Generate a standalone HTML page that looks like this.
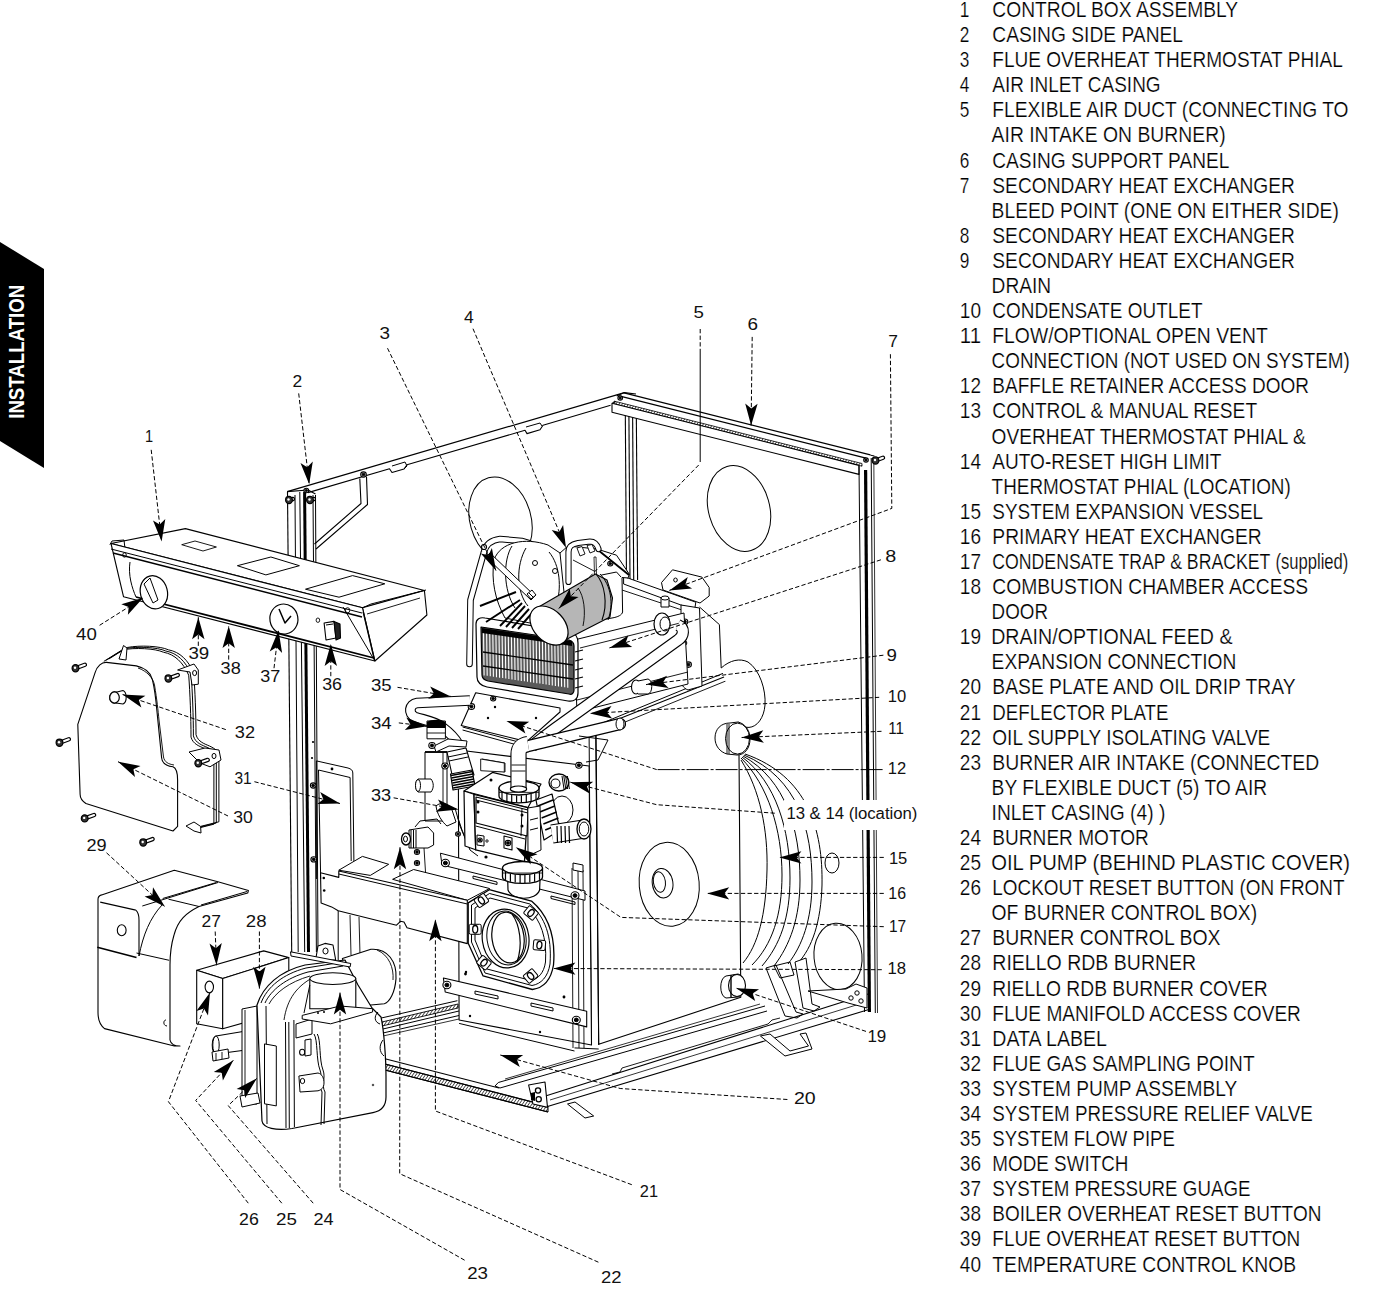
<!DOCTYPE html>
<html><head><meta charset="utf-8"><style>
html,body{margin:0;padding:0;background:#fff;}
body{width:1373px;height:1308px;overflow:hidden;}
svg{display:block;}
.leg text{font-family:"Liberation Sans",sans-serif;font-size:21.6px;fill:#000;stroke:#fff;stroke-width:0.22px;}
.lab text{font-family:"Liberation Sans",sans-serif;font-size:16px;fill:#111;}
</style></head><body>
<svg width="1373" height="1308" viewBox="0 0 1373 1308">
<polygon points="0,242 44,269 44,468 0,441" fill="#000"/>
<text transform="translate(24.2,418.8) rotate(-90)" style="font-family:'Liberation Sans',sans-serif;font-weight:bold;font-size:22.8px;fill:#fff" textLength="134" lengthAdjust="spacingAndGlyphs">INSTALLATION</text>
<defs><pattern id="hatch" width="2.6" height="2.6" patternUnits="userSpaceOnUse" patternTransform="rotate(35)"><line x1="0" y1="0" x2="0" y2="2.6" stroke="#000" stroke-width="1.3"/></pattern></defs><g id="diagram"><ellipse cx="500.5" cy="519.8" rx="30.5" ry="43.7" fill="none" stroke="#000" stroke-width="1.0" transform="rotate(-16 500.5 519.8)"/>
<ellipse cx="739" cy="508.5" rx="30.5" ry="43.7" fill="none" stroke="#000" stroke-width="1.0" transform="rotate(-16 739 508.5)"/>
<polyline points="287.2,491.6 624.4,392.6" fill="none" stroke="#000" stroke-width="1.2" stroke-linejoin="round" />
<polyline points="308.0,492.6 389.5,468.8 392.0,472.5 404.0,469.0 407.0,464.8 525.0,430.3 527.0,433.6 540.0,429.8 543.0,425.2 610.6,405.2" fill="none" stroke="#000" stroke-width="1.1" stroke-linejoin="round" />
<path d="M392,466 L405,462 L407,466 L404,469" fill="none" stroke="#000" stroke-width="1.0" stroke-linejoin="round" />
<path d="M526,427 L540,423 L542,426" fill="none" stroke="#000" stroke-width="1.0" stroke-linejoin="round" />
<polyline points="359.8,478.5 361.0,503.5 314.5,544.0" fill="none" stroke="#000" stroke-width="1.1" stroke-linejoin="round" />
<polyline points="366.5,476.5 367.5,504.5 316.0,549.0" fill="none" stroke="#000" stroke-width="1.1" stroke-linejoin="round" />
<ellipse cx="363.5" cy="474.5" rx="2.8" ry="2.576" fill="#fff" stroke="#000" stroke-width="1.1"/>
<ellipse cx="363.5" cy="474.5" rx="1.4" ry="1.288" fill="#000" stroke="#000" stroke-width="1.0"/>
<polyline points="616.7,396.0 624.4,392.6 636.0,394.0" fill="none" stroke="#000" stroke-width="1.1" stroke-linejoin="round" />
<polyline points="625.3,412.0 626.5,580.0" fill="none" stroke="#000" stroke-width="1.1" stroke-linejoin="round" />
<polyline points="628.9,412.0 630.0,580.0" fill="none" stroke="#000" stroke-width="1.1" stroke-linejoin="round" />
<polyline points="632.6,412.0 633.7,580.0" fill="none" stroke="#000" stroke-width="1.1" stroke-linejoin="round" />
<polyline points="636.3,412.0 637.6,580.0" fill="none" stroke="#000" stroke-width="1.1" stroke-linejoin="round" />
<polyline points="624.0,392.9 870.4,454.9" fill="none" stroke="#000" stroke-width="1.3" stroke-linejoin="round" />
<polyline points="619.0,395.9 866.0,458.1" fill="none" stroke="#000" stroke-width="1.3" stroke-linejoin="round" />
<polygon points="614.0,401.1 862.0,463.5 862.0,466.2 614.0,403.8" fill="url(#hatch)" stroke="#000" stroke-width="0.8" stroke-linejoin="round" />
<polygon points="612.0,403.3 859.0,465.4 859.0,474.4 612.0,412.3" fill="#fff" stroke="#000" stroke-width="1.1" stroke-linejoin="round" />
<polyline points="612.0,403.3 616.0,401.6" fill="none" stroke="#000" stroke-width="1.0" stroke-linejoin="round" />
<ellipse cx="620.2" cy="398" rx="2.3" ry="2.116" fill="#fff" stroke="#000" stroke-width="1.1"/>
<ellipse cx="620.2" cy="398" rx="1.15" ry="1.058" fill="#000" stroke="#000" stroke-width="1.0"/>
<ellipse cx="866" cy="460" rx="2.3" ry="2.116" fill="#fff" stroke="#000" stroke-width="1.1"/>
<ellipse cx="866" cy="460" rx="1.15" ry="1.058" fill="#000" stroke="#000" stroke-width="1.0"/>
<polyline points="859.0,466.0 864.5,1012.0" fill="none" stroke="#000" stroke-width="1.0" stroke-linejoin="round" />
<polyline points="865.6,470.0 869.4,1012.0" fill="none" stroke="#000" stroke-width="3.2" stroke-linejoin="round" />
<polyline points="871.2,458.0 875.3,1013.0" fill="none" stroke="#000" stroke-width="1.0" stroke-linejoin="round" />
<polyline points="873.8,457.0 877.5,1013.0" fill="none" stroke="#000" stroke-width="0.8" stroke-linejoin="round" />
<polyline points="870.4,455.2 874.5,456.0" fill="none" stroke="#000" stroke-width="1.0" stroke-linejoin="round" />
<line x1="875.5" y1="460.5" x2="883.0" y2="457.8" stroke="#000" stroke-width="4.4" stroke-linecap="round"/>
<line x1="875.5" y1="460.5" x2="883.0" y2="457.8" stroke="#fff" stroke-width="2.0" stroke-linecap="round"/>
<ellipse cx="875.5" cy="460.5" rx="3.4" ry="3.6" fill="#333" stroke="#000" stroke-width="1.2"/>
<circle cx="875.0" cy="460.0" r="1.2" fill="#fff"/>
<path d="M741,760 C760,790 768,830 767,870 C766,915 758,945 743,963" fill="none" stroke="#000" stroke-width="1.0" stroke-linejoin="round" />
<path d="M741,758 C768,785 782,830 782,875 C782,915 772,945 752,965" fill="none" stroke="#000" stroke-width="1.0" stroke-linejoin="round" />
<path d="M742,757 C776,782 790,830 790,878 C790,918 780,945 762,966" fill="none" stroke="#000" stroke-width="1.0" stroke-linejoin="round" />
<path d="M743,756 C786,780 800,830 800,880 C800,918 790,945 774,966" fill="none" stroke="#000" stroke-width="1.0" stroke-linejoin="round" />
<path d="M744,755 C798,778 812,830 812,882 C812,920 802,946 788,964" fill="none" stroke="#000" stroke-width="1.0" stroke-linejoin="round" />
<path d="M745,754 C808,776 823,830 822,885 C821,922 812,948 798,963" fill="none" stroke="#000" stroke-width="1.0" stroke-linejoin="round" />
<ellipse cx="832" cy="863" rx="7" ry="10" fill="#fff" stroke="#000" stroke-width="1.0"/>
<ellipse cx="838" cy="956.4" rx="24" ry="33.3" fill="#fff" stroke="#000" stroke-width="1.0" transform="rotate(-5 838 956.4)"/>
<polygon points="766.0,968.0 776.0,965.0 796.0,1012.0 803.0,1014.0 797.0,1018.0 785.0,1016.0" fill="#fff" stroke="#000" stroke-width="1.0" stroke-linejoin="round" />
<polygon points="795.0,962.0 806.0,958.0 812.0,1004.0 820.0,1007.0 814.0,1011.0 803.0,1008.0" fill="#fff" stroke="#000" stroke-width="1.0" stroke-linejoin="round" />
<path d="M774,966 L790,962 L794,975 L780,978 Z" fill="none" stroke="#000" stroke-width="1.0" stroke-linejoin="round" />
<polyline points="545.5,1096.0 868.0,994.0" fill="none" stroke="#000" stroke-width="1.1" stroke-linejoin="round" />
<polyline points="547.5,1106.5 868.0,1009.8" fill="none" stroke="#000" stroke-width="1.1" stroke-linejoin="round" />
<polyline points="550.0,1100.0 866.0,1002.0" fill="none" stroke="#000" stroke-width="0.8" stroke-linejoin="round" />
<polyline points="612.0,1074.0 620.0,1072.0 622.0,1068.0 768.0,1024.0 772.0,1020.0 780.0,1018.0" fill="none" stroke="#000" stroke-width="0.9" stroke-linejoin="round" />
<polygon points="808.0,991.0 846.0,989.0 856.0,984.0 867.0,988.0 867.0,1008.0 848.0,1003.0" fill="#fff" stroke="#000" stroke-width="1.0" stroke-linejoin="round" />
<ellipse cx="851" cy="998" rx="2.2" ry="2.2" fill="none" stroke="#000" stroke-width="1.0"/>
<ellipse cx="857" cy="993" rx="2.2" ry="2.2" fill="none" stroke="#000" stroke-width="1.0"/>
<ellipse cx="861" cy="1001" rx="2.2" ry="2.2" fill="none" stroke="#000" stroke-width="1.0"/>
<polyline points="383.0,1058.2 499.0,1088.0" fill="none" stroke="#000" stroke-width="1.1" stroke-linejoin="round" />
<polygon points="383.0,1063.5 548.0,1106.0 548.0,1112.0 383.0,1069.5" fill="url(#hatch)" stroke="#000" stroke-width="1.0" stroke-linejoin="round" />
<polyline points="383.0,1063.5 548.0,1106.0" fill="none" stroke="#000" stroke-width="1.2" stroke-linejoin="round" />
<polyline points="383.0,1069.5 548.0,1112.0" fill="none" stroke="#000" stroke-width="1.2" stroke-linejoin="round" />
<path d="M383,1058.2 C378,1059 378,1070 383,1071" fill="#fff" stroke="#000" stroke-width="1.1" stroke-linejoin="round" />
<polyline points="498.3,1082.5 765.0,1006.0" fill="none" stroke="#000" stroke-width="1.0" stroke-linejoin="round" />
<polyline points="500.0,1088.0 767.0,1011.0" fill="none" stroke="#000" stroke-width="1.0" stroke-linejoin="round" />
<polyline points="498.3,1082.5 495.0,1086.0 500.0,1088.0" fill="none" stroke="#000" stroke-width="1.0" stroke-linejoin="round" />
<polyline points="505.0,1079.0 760.0,1004.0" fill="none" stroke="#000" stroke-width="0.8" stroke-linejoin="round" />
<polyline points="380.5,1018.2 457.4,1000.7" fill="none" stroke="#000" stroke-width="1.0" stroke-linejoin="round" />
<polygon points="382.0,1022.0 458.0,1004.0 458.0,1008.0 382.0,1026.0" fill="url(#hatch)" stroke="#000" stroke-width="0.9" stroke-linejoin="round" />
<polyline points="383.0,1029.0 459.0,1011.0" fill="none" stroke="#000" stroke-width="1.0" stroke-linejoin="round" />
<polyline points="383.0,1033.0 459.0,1015.5" fill="none" stroke="#000" stroke-width="1.0" stroke-linejoin="round" />
<polyline points="383.0,1036.0 459.0,1019.0" fill="none" stroke="#000" stroke-width="0.8" stroke-linejoin="round" />
<polygon points="528.6,1085.0 545.0,1082.0 547.5,1107.4 533.0,1104.0" fill="#fff" stroke="#000" stroke-width="1.1" stroke-linejoin="round" />
<ellipse cx="538" cy="1090.5" rx="2.6" ry="2.6" fill="#fff" stroke="#000" stroke-width="1.3"/>
<ellipse cx="538.7" cy="1099.3" rx="2.6" ry="2.6" fill="#fff" stroke="#000" stroke-width="1.3"/>
<path d="M531,1093 L535,1092 L535,1101 L531,1100 Z" fill="#000"/>
<polygon points="567.5,1104.0 575.0,1102.0 593.7,1116.0 585.0,1118.0" fill="#fff" stroke="#000" stroke-width="1.0" stroke-linejoin="round" />
<polygon points="760.4,1036.0 770.0,1034.0 790.0,1051.0 808.5,1046.0 800.0,1034.0 806.0,1033.0 812.0,1049.0 785.0,1056.0" fill="#fff" stroke="#000" stroke-width="1.0" stroke-linejoin="round" />
<polygon points="596.0,728.0 738.4,671.3 740.8,997.3 598.7,1044.3" fill="#fff" stroke="#000" stroke-width="1.1" stroke-linejoin="round" />
<polyline points="600.0,724.0 738.4,667.0" fill="none" stroke="#000" stroke-width="1.0" stroke-linejoin="round" />
<polyline points="603.0,731.0 738.0,676.0" fill="none" stroke="#000" stroke-width="0.9" stroke-linejoin="round" />
<path d="M721.2,668 C730,660 740,658 748,662 C760,670 766,690 765,705 C764,718 757,727 749,727.4 L740,727" fill="#fff" stroke="#000" stroke-width="1.0" stroke-linejoin="round" />
<polyline points="589.1,735.0 591.5,1045.0" fill="none" stroke="#000" stroke-width="1.0" stroke-linejoin="round" />
<polyline points="595.7,733.0 598.7,1045.0" fill="none" stroke="#000" stroke-width="1.0" stroke-linejoin="round" />
<polygon points="458.3,750.0 589.1,766.0 591.5,1045.0 459.1,1020.0" fill="#fff" stroke="#000" stroke-width="1.1" stroke-linejoin="round" />
<polyline points="482.0,759.0 505.0,763.0 505.0,772.0 482.0,768.0" fill="none" stroke="#000" stroke-width="0.9" stroke-linejoin="round" />
<polyline points="459.1,1023.4 574.5,1051.0" fill="none" stroke="#000" stroke-width="1.0" stroke-linejoin="round" />
<polyline points="574.5,1047.9 598.7,1049.0" fill="none" stroke="#000" stroke-width="1.0" stroke-linejoin="round" />
<polyline points="572.0,868.0 573.0,1048.0" fill="none" stroke="#000" stroke-width="0.9" stroke-linejoin="round" />
<polyline points="578.0,868.0 579.0,1048.0" fill="none" stroke="#000" stroke-width="0.9" stroke-linejoin="round" />
<polyline points="583.0,870.0 584.0,1048.0" fill="none" stroke="#000" stroke-width="0.9" stroke-linejoin="round" />
<circle cx="466" cy="972" r="1.2" fill="#000"/>
<circle cx="564" cy="997" r="1.2" fill="#000"/>
<circle cx="470" cy="1016" r="1.2" fill="#000"/>
<circle cx="540" cy="1032" r="1.2" fill="#000"/>
<ellipse cx="669.2" cy="884.3" rx="30" ry="42" fill="none" stroke="#000" stroke-width="1.0" transform="rotate(-5 669.2 884.3)"/>
<ellipse cx="662.6" cy="883.2" rx="10.3" ry="14.8" fill="none" stroke="#000" stroke-width="1.0" transform="rotate(-8 662.6 883.2)"/>
<ellipse cx="659.4" cy="882" rx="6" ry="10.3" fill="none" stroke="#000" stroke-width="1.0" transform="rotate(-8 659.4 882)"/>
<path d="M726,976 L738,974 C746,976 748,994 738,997 L726,998 C719,996 719,978 726,976 Z" fill="#fff" stroke="#000" stroke-width="1.0" stroke-linejoin="round" />
<ellipse cx="737" cy="985.5" rx="8.5" ry="11" fill="#fff" stroke="#000" stroke-width="1.1"/>
<polyline points="731.0,975.0 731.0,997.0" fill="none" stroke="#000" stroke-width="1.4" stroke-linejoin="round" />
<path d="M730,723 L738,722 C746,724 750,731 750,739 C750,748 745,755 737,755 L727,754 C720,752 715,746 715,738 C715,729 721,723 730,723 Z" fill="#fff" stroke="#000" stroke-width="1.0" stroke-linejoin="round" />
<ellipse cx="737.5" cy="738.6" rx="12" ry="15.5" fill="#fff" stroke="#000" stroke-width="1.0"/>
<polyline points="727.0,724.0 727.0,754.0" fill="none" stroke="#000" stroke-width="0.9" stroke-linejoin="round" />
<polyline points="729.0,724.0 729.0,754.0" fill="none" stroke="#000" stroke-width="0.9" stroke-linejoin="round" />
<polygon points="623.6,576.5 695.8,602.2 694.6,610.0 623.6,584.0" fill="#fff" stroke="#000" stroke-width="1.0" stroke-linejoin="round" />
<polyline points="622.0,590.0 694.0,614.0" fill="none" stroke="#000" stroke-width="0.9" stroke-linejoin="round" />
<polygon points="661.5,582.6 672.5,569.8 701.9,577.1 709.2,587.5 709.2,596.0 700.0,603.0 663.0,590.0" fill="#fff" stroke="#000" stroke-width="1.0" stroke-linejoin="round" />
<ellipse cx="675.5" cy="580" rx="1.8" ry="2" fill="none" stroke="#000" stroke-width="1.0"/>
<polygon points="661.0,598.0 669.0,598.0 669.0,607.0 661.0,607.0" fill="#fff" stroke="#000" stroke-width="1.0" stroke-linejoin="round" />
<ellipse cx="665" cy="598" rx="4" ry="2" fill="#fff" stroke="#000" stroke-width="1.0"/>
<path d="M681,605 L699.5,608 L702,686 L688,690 C683,688 681,684 681,680 Z" fill="#fff" stroke="#000" stroke-width="1.0" stroke-linejoin="round" />
<ellipse cx="684.8" cy="621.7" rx="3" ry="2.7600000000000002" fill="#fff" stroke="#000" stroke-width="1.1"/>
<ellipse cx="684.8" cy="621.7" rx="1.5" ry="1.3800000000000001" fill="#000" stroke="#000" stroke-width="1.0"/>
<ellipse cx="688.4" cy="664.6" rx="3" ry="2.7600000000000002" fill="#fff" stroke="#000" stroke-width="1.1"/>
<ellipse cx="688.4" cy="664.6" rx="1.5" ry="1.3800000000000001" fill="#000" stroke="#000" stroke-width="1.0"/>
<ellipse cx="685" cy="643" rx="1.8" ry="2.2" fill="none" stroke="#000" stroke-width="1.0"/>
<polyline points="699.5,607.0 719.4,624.6 721.2,668.0" fill="none" stroke="#000" stroke-width="1.0" stroke-linejoin="round" />
<polygon points="574.0,640.0 684.0,613.0 688.0,684.0 577.0,712.0" fill="#fff" stroke="#000" stroke-width="1.0" stroke-linejoin="round" />
<polyline points="580.0,648.0 684.0,622.0" fill="none" stroke="#000" stroke-width="0.9" stroke-linejoin="round" />
<polyline points="577.0,700.0 688.0,672.0" fill="none" stroke="#000" stroke-width="0.9" stroke-linejoin="round" />
<ellipse cx="662" cy="624" rx="8" ry="11" fill="#fff" stroke="#000" stroke-width="1.2"/>
<ellipse cx="665" cy="624" rx="5" ry="7" fill="#fff" stroke="#000" stroke-width="1.0"/>
<path d="M678,625 C685,628 684,636 678,640 L560,725 C550,732 540,740 532,746" fill="none" stroke="#000" stroke-width="12.2" stroke-linejoin="round" stroke-linecap="butt"/>
<path d="M678,625 C685,628 684,636 678,640 L560,725 C550,732 540,740 532,746" fill="none" stroke="#fff" stroke-width="10" stroke-linejoin="round" stroke-linecap="butt"/>
<path d="M520,748 L620,724" fill="none" stroke="#000" stroke-width="12.2" stroke-linejoin="round" stroke-linecap="round"/>
<path d="M520,748 L620,724" fill="none" stroke="#fff" stroke-width="10" stroke-linejoin="round" stroke-linecap="round"/>
<ellipse cx="620" cy="724" rx="4" ry="6" fill="#fff" stroke="#000" stroke-width="1.0"/>
<ellipse cx="636" cy="687" rx="4.5" ry="7" fill="#fff" stroke="#000" stroke-width="1.1"/>
<path d="M638,681 L648,679 C653,680 653,693 648,694 L638,694" fill="#fff" stroke="#000" stroke-width="1.0" stroke-linejoin="round" />
<path d="M579,736 L608,740 L598,760 L586,762" fill="none" stroke="#000" stroke-width="1.0" stroke-linejoin="round" />
<ellipse cx="578.9" cy="765.3" rx="3.2" ry="2.9440000000000004" fill="#fff" stroke="#000" stroke-width="1.1"/>
<ellipse cx="578.9" cy="765.3" rx="1.6" ry="1.4720000000000002" fill="#000" stroke="#000" stroke-width="1.0"/>
<path d="M476,624 C476,619 480,617 485,618 L570,632 C575,633 578,637 578,643 L578,693 C578,699 574,702 568,701 L487,687 C481,686 477,682 477,677 Z" fill="#fff" stroke="#000" stroke-width="1.2" stroke-linejoin="round" />
<path d="M481,627 L569,640 C572,641 574,643 574,646 L574,690 C574,693 572,695 569,694 L488,681 C484,680 482,678 482,675 Z" fill="#5a5a5a" stroke="#000" stroke-width="1.2" stroke-linejoin="round" />
<path d="M483.5,630.4 L484.1,675.4 M486.6,630.8 L487.2,675.8 M489.7,631.3 L490.3,676.3 M492.8,631.7 L493.4,676.7 M495.9,632.2 L496.5,677.2 M499.0,632.7 L499.6,677.7 M502.1,633.1 L502.7,678.1 M505.2,633.6 L505.8,678.6 M508.3,634.0 L508.9,679.0 M511.4,634.5 L512.0,679.5 M514.5,635.0 L515.1,680.0 M517.6,635.4 L518.2,680.4 M520.7,635.9 L521.3,680.9 M523.8,636.3 L524.4,681.3 M526.9,636.8 L527.5,681.8 M530.0,637.3 L530.6,682.3 M533.1,637.7 L533.7,682.7 M536.2,638.2 L536.8,683.2 M539.3,638.6 L539.9,683.6 M542.4,639.1 L543.0,684.1 M545.5,639.5 L546.1,684.5 M548.6,640.0 L549.2,685.0 M551.7,640.5 L552.3,685.5 M554.8,640.9 L555.4,685.9 M557.9,641.4 L558.5,686.4 M561.0,641.8 L561.6,686.8 M564.1,642.3 L564.7,687.3 M567.2,642.8 L567.8,687.8" stroke="#fff" stroke-width="1.1" fill="none"/>
<polygon points="482,628 572,641 572,646 482,633" fill="#000"/>
<polyline points="483.0,652.0 573.0,665.0" fill="none" stroke="#000" stroke-width="1.3" stroke-linejoin="round" />
<polyline points="483.0,666.0 573.0,679.0" fill="none" stroke="#000" stroke-width="1.3" stroke-linejoin="round" />
<polyline points="575.0,652.0 583.0,650.0" fill="none" stroke="#000" stroke-width="1.2" stroke-linejoin="round" />
<polyline points="575.0,661.0 583.0,659.0" fill="none" stroke="#000" stroke-width="1.2" stroke-linejoin="round" />
<polyline points="575.0,670.0 583.0,668.0" fill="none" stroke="#000" stroke-width="1.2" stroke-linejoin="round" />
<polyline points="575.0,679.0 583.0,677.0" fill="none" stroke="#000" stroke-width="1.2" stroke-linejoin="round" />
<polyline points="575.0,688.0 583.0,686.0" fill="none" stroke="#000" stroke-width="1.2" stroke-linejoin="round" />
<path d="M469.5,664 L470.5,600 L484,552 C486,544 492,540 500,539 L522,541 C532,543 540,549 546,557 L555,580" fill="none" stroke="#000" stroke-width="6.6" stroke-linejoin="round" stroke-linecap="round"/>
<path d="M469.5,664 L470.5,600 L484,552 C486,544 492,540 500,539 L522,541 C532,543 540,549 546,557 L555,580" fill="none" stroke="#fff" stroke-width="4.6" stroke-linejoin="round" stroke-linecap="round"/>
<path d="M494,560 C500,542 525,537 548,545 L560,553 C568,565 570,590 566,612 L540,625 L505,618 C495,600 491,580 494,560 Z" fill="#fff" stroke="#000" stroke-width="1.0" stroke-linejoin="round" />
<path d="M512,546 C503,560 503,590 515,608" fill="none" stroke="#000" stroke-width="1.0" stroke-linejoin="round" />
<path d="M526,548 C516,565 516,592 528,606" fill="none" stroke="#000" stroke-width="1.0" stroke-linejoin="round" />
<path d="M549,552 C560,565 562,588 556,606" fill="none" stroke="#000" stroke-width="1.0" stroke-linejoin="round" />
<ellipse cx="535" cy="563" rx="2.5" ry="2.5" fill="none" stroke="#000" stroke-width="1.0"/>
<ellipse cx="555" cy="571" rx="2.5" ry="2.5" fill="none" stroke="#000" stroke-width="1.0"/>
<path d="M560,553 L568,546 L597,549 L616.5,555.2 L629.4,574.3 L628,578 L622,577.5 L622.6,612 C622,615 618,617 612,618 L600,620 L566,612 Z" fill="#fff" stroke="#000" stroke-width="1.0" stroke-linejoin="round" />
<polyline points="598.0,550.0 629.0,575.0" fill="none" stroke="#000" stroke-width="1.8" stroke-linejoin="round" />
<polyline points="601.2,575.1 616.5,572.0 621.0,577.0" fill="none" stroke="#000" stroke-width="1.0" stroke-linejoin="round" />
<ellipse cx="610.3" cy="563.6" rx="2.6" ry="2.3920000000000003" fill="#fff" stroke="#000" stroke-width="1.1"/>
<ellipse cx="610.3" cy="563.6" rx="1.3" ry="1.1960000000000002" fill="#000" stroke="#000" stroke-width="1.0"/>
<path d="M568.5,582 L568.5,552 C568.5,546 572,544 578,543 L590,541.5 C594,541.5 597,544 598.5,549" fill="none" stroke="#000" stroke-width="6.2" stroke-linejoin="round" stroke-linecap="round"/>
<path d="M568.5,582 L568.5,552 C568.5,546 572,544 578,543 L590,541.5 C594,541.5 597,544 598.5,549" fill="none" stroke="#fff" stroke-width="4.2" stroke-linejoin="round" stroke-linecap="round"/>
<polygon points="577.0,548.0 582.0,546.5 585.0,554.0 580.0,556.0" fill="#fff" stroke="#000" stroke-width="0.9" stroke-linejoin="round" />
<polygon points="587.0,545.5 592.0,544.5 595.0,551.0 590.0,553.0" fill="#fff" stroke="#000" stroke-width="0.9" stroke-linejoin="round" />
<polyline points="573.0,560.0 596.0,572.0" fill="none" stroke="#000" stroke-width="0.9" stroke-linejoin="round" />
<polygon points="594.0,557.0 596.0,557.0 596.5,575.0 594.5,575.0" fill="#fff" stroke="#000" stroke-width="0.8" stroke-linejoin="round" />
<polyline points="480.0,606.0 516.0,592.0" fill="none" stroke="#000" stroke-width="1.9" stroke-linejoin="round" />
<polyline points="486.0,622.0 520.0,600.0" fill="none" stroke="#000" stroke-width="1.9" stroke-linejoin="round" />
<polyline points="500.0,626.0 522.0,603.0" fill="none" stroke="#000" stroke-width="1.9" stroke-linejoin="round" />
<polyline points="506.0,627.0 525.0,606.0" fill="none" stroke="#000" stroke-width="1.9" stroke-linejoin="round" />
<polyline points="512.0,628.0 529.0,609.0" fill="none" stroke="#000" stroke-width="1.9" stroke-linejoin="round" />
<polyline points="518.0,629.0 533.0,612.0" fill="none" stroke="#000" stroke-width="1.9" stroke-linejoin="round" />
<polygon points="486.0,557.0 490.0,553.0 535.0,596.0 531.0,600.0" fill="#fff" stroke="#000" stroke-width="1.0" stroke-linejoin="round" />
<polygon points="527.0,594.0 532.0,590.0 536.0,595.0 531.0,599.0" fill="#fff" stroke="#000" stroke-width="1.0" stroke-linejoin="round" />
<polyline points="529.0,593.0 533.0,597.0" fill="none" stroke="#000" stroke-width="1.0" stroke-linejoin="round" />
<ellipse cx="484" cy="547" rx="2.5" ry="2.5" fill="#fff" stroke="#000" stroke-width="1.2"/>
<polygon points="536.0,608.5 595.5,574.0 607.0,580.0 612.5,598.0 610.0,617.0 565.2,640.0" fill="#b6b6b6" stroke="#000" stroke-width="1.1" stroke-linejoin="round" />
<path d="M596,574 C605,584 608,604 602,620" fill="none" stroke="#000" stroke-width="1.1" stroke-linejoin="round" />
<path d="M600,574 C611,585 614,604 608,620" fill="none" stroke="#000" stroke-width="1.0" stroke-linejoin="round" />
<path d="M578,588 C584,596 586,612 583,626" fill="none" stroke="#000" stroke-width="0.9" stroke-linejoin="round" />
<ellipse cx="549" cy="625.6" rx="22.5" ry="15.5" fill="#fff" stroke="#000" stroke-width="1.2" transform="rotate(47 549 625.6)"/>
<polygon points="480.7,759.0 504.3,763.0 504.3,772.0 480.7,770.7" fill="#fff" stroke="#000" stroke-width="0.9" stroke-linejoin="round" />
<polygon points="475.7,692.8 560.0,708.0 560.0,712.0 526.7,741.6 461.2,725.5" fill="#fff" stroke="#000" stroke-width="1.1" stroke-linejoin="round" />
<polyline points="462.6,727.0 522.4,743.0" fill="none" stroke="#000" stroke-width="1.0" stroke-linejoin="round" />
<polyline points="462.6,730.0 520.9,746.0" fill="none" stroke="#000" stroke-width="1.0" stroke-linejoin="round" />
<ellipse cx="471.4" cy="706.6" rx="3.2" ry="2.9440000000000004" fill="#fff" stroke="#000" stroke-width="1.1"/>
<ellipse cx="471.4" cy="706.6" rx="1.6" ry="1.4720000000000002" fill="#000" stroke="#000" stroke-width="1.0"/>
<ellipse cx="493.2" cy="698.6" rx="2.6" ry="2.3920000000000003" fill="#fff" stroke="#000" stroke-width="1.1"/>
<ellipse cx="493.2" cy="698.6" rx="1.3" ry="1.1960000000000002" fill="#000" stroke="#000" stroke-width="1.0"/>
<circle cx="488" cy="718" r="1.2" fill="#000"/>
<circle cx="495" cy="707" r="1.2" fill="#000"/>
<circle cx="536" cy="718" r="1.2" fill="#000"/>
<polygon points="425.0,752.0 447.0,752.0 447.0,821.0 425.0,821.0" fill="#fff" stroke="#000" stroke-width="1.0" stroke-linejoin="round" />
<polyline points="443.0,752.0 443.0,821.0" fill="none" stroke="#000" stroke-width="0.9" stroke-linejoin="round" />
<path d="M431,779 L418,779 C415,781 415,790 418,792 L431,792 C434,788 434,783 431,779 Z" fill="#fff" stroke="#000" stroke-width="1.0" stroke-linejoin="round" />
<ellipse cx="418" cy="785.5" rx="2.5" ry="6" fill="#fff" stroke="#000" stroke-width="1.0"/>
<polyline points="425.0,752.0 447.0,752.0" fill="none" stroke="#000" stroke-width="1.8" stroke-linejoin="round" />
<path d="M470,700.5 L417,703 C409,704 408,714 415,717 C424,720 434,721 442,727 C450,733 455,738 458,744" fill="none" stroke="#000" stroke-width="10.7" stroke-linejoin="round" stroke-linecap="butt"/>
<path d="M470,700.5 L417,703 C409,704 408,714 415,717 C424,720 434,721 442,727 C450,733 455,738 458,744" fill="none" stroke="#fff" stroke-width="8.5" stroke-linejoin="round" stroke-linecap="butt"/>
<polygon points="427.0,721.0 445.4,721.0 445.4,738.8 427.0,738.8" fill="#fff" stroke="#000" stroke-width="1.0" stroke-linejoin="round" />
<path d="M427,722 C431,719 441,719 445.4,722 L445.4,728 L427,728 Z" fill="#000"/>
<polyline points="427.0,733.0 445.4,733.0" fill="none" stroke="#000" stroke-width="0.9" stroke-linejoin="round" />
<polygon points="434.0,746.0 448.0,739.0 467.0,741.0 466.0,747.0 449.0,746.0 436.0,752.0" fill="#fff" stroke="#000" stroke-width="1.0" stroke-linejoin="round" />
<ellipse cx="432" cy="745.5" rx="3.2" ry="2.9440000000000004" fill="#fff" stroke="#000" stroke-width="1.1"/>
<ellipse cx="432" cy="745.5" rx="1.6" ry="1.4720000000000002" fill="#000" stroke="#000" stroke-width="1.0"/>
<path d="M447,752 L466,748 L474,775 L453,779 Z" fill="#fff" stroke="#000" stroke-width="1.1" stroke-linejoin="round" />
<polyline points="448.0,757.0 467.0,753.0" fill="none" stroke="#000" stroke-width="1.0" stroke-linejoin="round" />
<polyline points="449.0,761.0 468.0,757.0" fill="none" stroke="#000" stroke-width="1.0" stroke-linejoin="round" />
<ellipse cx="445" cy="766" rx="3.2" ry="2.9440000000000004" fill="#fff" stroke="#000" stroke-width="1.1"/>
<ellipse cx="445" cy="766" rx="1.6" ry="1.4720000000000002" fill="#000" stroke="#000" stroke-width="1.0"/>
<path d="M450.5,774 L472,770 L475,786 L453,790 Z" fill="#fff" stroke="#000" stroke-width="1.2" stroke-linejoin="round" />
<polyline points="451.0,775.5 472.5,771.5" fill="none" stroke="#000" stroke-width="1.4" stroke-linejoin="round" />
<polyline points="451.4,778.0 472.9,774.0" fill="none" stroke="#000" stroke-width="1.4" stroke-linejoin="round" />
<polyline points="451.9,780.5 473.4,776.5" fill="none" stroke="#000" stroke-width="1.4" stroke-linejoin="round" />
<polyline points="452.4,783.0 473.9,779.0" fill="none" stroke="#000" stroke-width="1.4" stroke-linejoin="round" />
<polyline points="452.8,785.5 474.3,781.5" fill="none" stroke="#000" stroke-width="1.4" stroke-linejoin="round" />
<polyline points="453.2,788.0 474.8,784.0" fill="none" stroke="#000" stroke-width="1.4" stroke-linejoin="round" />
<path d="M409,830 L428,827 L433.6,833 L433.6,845 L428,848 L409,848 Z" fill="#fff" stroke="#000" stroke-width="1.0" stroke-linejoin="round" />
<ellipse cx="406" cy="839" rx="4.5" ry="6" fill="#fff" stroke="#000" stroke-width="1.3"/>
<ellipse cx="405.5" cy="839" rx="2" ry="2.8" fill="none" stroke="#000" stroke-width="1.0"/>
<polyline points="411.0,830.0 411.0,848.0" fill="none" stroke="#000" stroke-width="1.0" stroke-linejoin="round" />
<polyline points="413.5,830.0 413.5,848.0" fill="none" stroke="#000" stroke-width="1.0" stroke-linejoin="round" />
<polyline points="416.0,830.0 416.0,848.0" fill="none" stroke="#000" stroke-width="1.0" stroke-linejoin="round" />
<path d="M415,827 L420,821 L437,819 L441,824" fill="none" stroke="#000" stroke-width="1.0" stroke-linejoin="round" />
<ellipse cx="417" cy="852" rx="2.6" ry="2.3920000000000003" fill="#fff" stroke="#000" stroke-width="1.1"/>
<ellipse cx="417" cy="852" rx="1.3" ry="1.1960000000000002" fill="#000" stroke="#000" stroke-width="1.0"/>
<ellipse cx="417" cy="863" rx="2.6" ry="2.3920000000000003" fill="#fff" stroke="#000" stroke-width="1.1"/>
<ellipse cx="417" cy="863" rx="1.3" ry="1.1960000000000002" fill="#000" stroke="#000" stroke-width="1.0"/>
<polyline points="424.0,848.0 426.0,880.0" fill="none" stroke="#000" stroke-width="0.9" stroke-linejoin="round" />
<path d="M436,806 C441,801 450,804 452,810 L456,822 L447,826 C442,822 437,814 436,806 Z" fill="#fff" stroke="#000" stroke-width="1.0" stroke-linejoin="round" />
<path d="M455,808 L460,826 L470,850 L478,856" fill="none" stroke="#000" stroke-width="1.0" stroke-linejoin="round" />
<path d="M458,818 L462,830 L466,840" fill="none" stroke="#000" stroke-width="1.0" stroke-linejoin="round" />
<ellipse cx="458" cy="834" rx="2.4" ry="2.208" fill="#fff" stroke="#000" stroke-width="1.1"/>
<ellipse cx="458" cy="834" rx="1.2" ry="1.104" fill="#000" stroke="#000" stroke-width="1.0"/>
<polygon points="440.4,853.2 585.0,891.0 585.0,900.3 442.0,865.0" fill="#fff" stroke="#000" stroke-width="1.0" stroke-linejoin="round" />
<ellipse cx="445.4" cy="863" rx="4" ry="3.68" fill="#fff" stroke="#000" stroke-width="1.1"/>
<ellipse cx="445.4" cy="863" rx="2.0" ry="1.84" fill="#000" stroke="#000" stroke-width="1.0"/>
<ellipse cx="575" cy="895.5" rx="4" ry="3.68" fill="#fff" stroke="#000" stroke-width="1.1"/>
<ellipse cx="575" cy="895.5" rx="2.0" ry="1.84" fill="#000" stroke="#000" stroke-width="1.0"/>
<path d="M473,876 L497,882 L497,884.5 L473,878.5 Z" fill="none" stroke="#000" stroke-width="1.0" stroke-linejoin="round" />
<path d="M551,896 L575,902 L575,904.5 L551,898.5 Z" fill="none" stroke="#000" stroke-width="1.0" stroke-linejoin="round" />
<polygon points="573.0,863.0 583.0,865.0 583.0,872.0 573.0,870.0" fill="#fff" stroke="#000" stroke-width="1.0" stroke-linejoin="round" />
<polygon points="464.0,791.0 492.5,772.4 541.0,784.0 527.8,807.7" fill="#fff" stroke="#000" stroke-width="1.2" stroke-linejoin="round" />
<polygon points="464.0,791.0 474.0,794.3 475.7,849.8 465.0,846.0" fill="#fff" stroke="#000" stroke-width="1.2" stroke-linejoin="round" />
<polygon points="474.0,794.3 527.8,807.7 524.5,861.6 475.7,849.8" fill="#fff" stroke="#000" stroke-width="1.3" stroke-linejoin="round" />
<polygon points="476.0,797.0 528.0,810.0 527.0,836.0 476.0,823.0" fill="#fff" stroke="#000" stroke-width="1.2" stroke-linejoin="round" />
<polyline points="476.0,800.0 528.0,813.0" fill="none" stroke="#000" stroke-width="1.0" stroke-linejoin="round" />
<polyline points="522.0,808.0 521.0,836.0" fill="none" stroke="#000" stroke-width="1.0" stroke-linejoin="round" />
<circle cx="478" cy="802" r="1.5" fill="#000"/>
<circle cx="478" cy="812" r="1.5" fill="#000"/>
<circle cx="522" cy="815" r="1.5" fill="#000"/>
<circle cx="522" cy="826" r="1.5" fill="#000"/>
<circle cx="491" cy="780" r="1.5" fill="#000"/>
<polyline points="475.7,826.0 525.0,839.0" fill="none" stroke="#000" stroke-width="1.0" stroke-linejoin="round" />
<path d="M504,836 L512,838 L512,850 L504,848 Z" fill="none" stroke="#000" stroke-width="1.1" stroke-linejoin="round" />
<ellipse cx="508" cy="843" rx="2.8" ry="2.576" fill="#fff" stroke="#000" stroke-width="1.1"/>
<ellipse cx="508" cy="843" rx="1.4" ry="1.288" fill="#000" stroke="#000" stroke-width="1.0"/>
<path d="M477,835 L484,836 L484,846 L477,845 Z" fill="none" stroke="#000" stroke-width="1.0" stroke-linejoin="round" />
<ellipse cx="480" cy="840" rx="2.2" ry="2.0240000000000005" fill="#fff" stroke="#000" stroke-width="1.1"/>
<ellipse cx="480" cy="840" rx="1.1" ry="1.0120000000000002" fill="#000" stroke="#000" stroke-width="1.0"/>
<ellipse cx="487" cy="841" rx="1.2" ry="1.2" fill="none" stroke="#000" stroke-width="0.9"/>
<circle cx="486" cy="857" r="1.6" fill="#000"/>
<path d="M499,788 L499,796 C499,805.1 539,805.1 539,796 L539,788 Z" fill="#fff" stroke="#000" stroke-width="1.3" stroke-linejoin="round" />
<ellipse cx="519" cy="788" rx="20" ry="7" fill="#fff" stroke="#000" stroke-width="1.3"/>
<polyline points="502.0,792.2 502.0,799.2" fill="none" stroke="#000" stroke-width="1.2" stroke-linejoin="round" />
<polyline points="506.9,794.1 506.9,801.1" fill="none" stroke="#000" stroke-width="1.2" stroke-linejoin="round" />
<polyline points="511.7,795.0 511.7,802.0" fill="none" stroke="#000" stroke-width="1.2" stroke-linejoin="round" />
<polyline points="516.6,795.4 516.6,802.4" fill="none" stroke="#000" stroke-width="1.2" stroke-linejoin="round" />
<polyline points="521.4,795.4 521.4,802.4" fill="none" stroke="#000" stroke-width="1.2" stroke-linejoin="round" />
<polyline points="526.3,795.0 526.3,802.0" fill="none" stroke="#000" stroke-width="1.2" stroke-linejoin="round" />
<polyline points="531.1,794.1 531.1,801.1" fill="none" stroke="#000" stroke-width="1.2" stroke-linejoin="round" />
<polyline points="536.0,792.2 536.0,799.2" fill="none" stroke="#000" stroke-width="1.2" stroke-linejoin="round" />
<polyline points="499.0,792.4 539.0,792.4" fill="none" stroke="#000" stroke-width="0.8" stroke-linejoin="round" />
<path d="M518.5,790 L518.5,754 C518.5,748 522,745 528,744" fill="none" stroke="#000" stroke-width="16.2" stroke-linejoin="round" stroke-linecap="butt"/>
<path d="M518.5,790 L518.5,754 C518.5,748 522,745 528,744" fill="none" stroke="#fff" stroke-width="14" stroke-linejoin="round" stroke-linecap="butt"/>
<ellipse cx="518.5" cy="789" rx="8.2" ry="3" fill="#fff" stroke="#000" stroke-width="1.1"/>
<polyline points="511.5,765.0 525.5,765.0" fill="none" stroke="#000" stroke-width="0.9" stroke-linejoin="round" />
<polyline points="511.5,771.0 525.5,771.0" fill="none" stroke="#000" stroke-width="0.9" stroke-linejoin="round" />
<ellipse cx="562" cy="810" rx="11" ry="14" fill="#fff" stroke="#000" stroke-width="1.0"/>
<path d="M536,800 L552,794 L560,830 L544,840 Z" fill="#fff" stroke="#000" stroke-width="1.2" stroke-linejoin="round" />
<polyline points="538.0,806.0 553.0,800.0" fill="none" stroke="#000" stroke-width="1.6" stroke-linejoin="round" />
<polyline points="539.8,812.0 554.8,806.0" fill="none" stroke="#000" stroke-width="1.6" stroke-linejoin="round" />
<polyline points="541.6,818.0 556.6,812.0" fill="none" stroke="#000" stroke-width="1.6" stroke-linejoin="round" />
<polyline points="543.4,824.0 558.4,818.0" fill="none" stroke="#000" stroke-width="1.6" stroke-linejoin="round" />
<polyline points="545.2,830.0 560.2,824.0" fill="none" stroke="#000" stroke-width="1.6" stroke-linejoin="round" />
<path d="M552,834 L584,829" fill="none" stroke="#000" stroke-width="19.2" stroke-linejoin="round" stroke-linecap="butt"/>
<path d="M552,834 L584,829" fill="none" stroke="#fff" stroke-width="17" stroke-linejoin="round" stroke-linecap="butt"/>
<polyline points="557.0,826.0 557.5,843.0" fill="none" stroke="#000" stroke-width="1.2" stroke-linejoin="round" />
<polyline points="561.0,826.0 561.5,843.0" fill="none" stroke="#000" stroke-width="1.2" stroke-linejoin="round" />
<polyline points="565.0,826.0 565.5,843.0" fill="none" stroke="#000" stroke-width="1.2" stroke-linejoin="round" />
<polyline points="569.0,826.0 569.5,843.0" fill="none" stroke="#000" stroke-width="1.2" stroke-linejoin="round" />
<ellipse cx="584" cy="829" rx="7" ry="10" fill="#fff" stroke="#000" stroke-width="1.3"/>
<ellipse cx="584" cy="829" rx="4.8" ry="7" fill="#fff" stroke="#000" stroke-width="1.0"/>
<polygon points="527.8,808.0 540.0,806.0 541.0,850.0 528.0,856.0" fill="#fff" stroke="#000" stroke-width="1.0" stroke-linejoin="round" />
<polyline points="530.0,820.0 538.0,818.0" fill="none" stroke="#000" stroke-width="1.0" stroke-linejoin="round" />
<polyline points="530.0,830.0 538.0,828.0" fill="none" stroke="#000" stroke-width="1.0" stroke-linejoin="round" />
<ellipse cx="559" cy="782.5" rx="10" ry="8.5" fill="#fff" stroke="#000" stroke-width="1.3"/>
<ellipse cx="555.5" cy="783.5" rx="4.5" ry="4.5" fill="#fff" stroke="#000" stroke-width="1.1"/>
<polyline points="562.0,776.0 564.0,789.0" fill="none" stroke="#000" stroke-width="1.0" stroke-linejoin="round" />
<polyline points="563.8,776.0 565.8,789.0" fill="none" stroke="#000" stroke-width="1.0" stroke-linejoin="round" />
<polyline points="565.6,776.0 567.6,789.0" fill="none" stroke="#000" stroke-width="1.0" stroke-linejoin="round" />
<polyline points="567.4,776.0 569.4,789.0" fill="none" stroke="#000" stroke-width="1.0" stroke-linejoin="round" />
<path d="M507.7,880 L508,890 C512,901 536,901 539.6,890 L540,880" fill="#fff" stroke="#000" stroke-width="1.2" stroke-linejoin="round" />
<path d="M502.5,868 L502.5,877 C502.5,885.45 542.5,885.45 542.5,877 L542.5,868 Z" fill="#fff" stroke="#000" stroke-width="1.3" stroke-linejoin="round" />
<ellipse cx="522.5" cy="868" rx="20" ry="6.5" fill="#fff" stroke="#000" stroke-width="1.3"/>
<polyline points="505.5,871.9 505.5,879.9" fill="none" stroke="#000" stroke-width="1.2" stroke-linejoin="round" />
<polyline points="510.4,873.7 510.4,881.7" fill="none" stroke="#000" stroke-width="1.2" stroke-linejoin="round" />
<polyline points="515.2,874.6 515.2,882.6" fill="none" stroke="#000" stroke-width="1.2" stroke-linejoin="round" />
<polyline points="520.1,875.0 520.1,883.0" fill="none" stroke="#000" stroke-width="1.2" stroke-linejoin="round" />
<polyline points="524.9,875.0 524.9,883.0" fill="none" stroke="#000" stroke-width="1.2" stroke-linejoin="round" />
<polyline points="529.8,874.6 529.8,882.6" fill="none" stroke="#000" stroke-width="1.2" stroke-linejoin="round" />
<polyline points="534.6,873.7 534.6,881.7" fill="none" stroke="#000" stroke-width="1.2" stroke-linejoin="round" />
<polyline points="539.5,871.9 539.5,879.9" fill="none" stroke="#000" stroke-width="1.2" stroke-linejoin="round" />
<polyline points="502.5,873.0 542.5,873.0" fill="none" stroke="#000" stroke-width="0.8" stroke-linejoin="round" />
<path d="M468.2,902.9 L489.3,889.7 L531.5,901.1 C548,915 556,935 553.5,965 C551,980 543,988 532.4,989.5 L483.1,975.9 L468.2,943.3 Z" fill="#fff" stroke="#000" stroke-width="1.3" stroke-linejoin="round" />
<path d="M471.5,905 L489.5,893.5 L530,904 C545,917 552,936 550,964 C548,977 541,984 532,985.5 L485,973 L471.5,942 Z" fill="none" stroke="#000" stroke-width="1.0" stroke-linejoin="round" />
<path d="M475,908 L490,898 L528,908 C541,920 547,938 545.5,962 C544,973 538,979 531,980.5 L487,969 L475,940 Z" fill="none" stroke="#000" stroke-width="1.0" stroke-linejoin="round" />
<ellipse cx="505.6" cy="938.5" rx="23.3" ry="29.5" fill="#fff" stroke="#000" stroke-width="1.2" transform="rotate(-8 505.6 938.5)"/>
<ellipse cx="506.5" cy="938" rx="19.5" ry="27" fill="#fff" stroke="#000" stroke-width="1.0" transform="rotate(-8 506.5 938)"/>
<ellipse cx="508" cy="937.6" rx="16" ry="25.5" fill="#fff" stroke="#000" stroke-width="1.2" transform="rotate(-8 508 937.6)"/>
<path d="M512,914 C520,925 523,945 517,962" fill="none" stroke="#000" stroke-width="1.2" stroke-linejoin="round" />
<rect x="475.4" y="895.5" width="12" height="10" rx="1.5" fill="#fff" stroke="#000" stroke-width="1.0" transform="rotate(-35 481.4 900.5)"/>
<ellipse cx="481.4" cy="900.5" rx="2.5" ry="3.8" fill="#fff" stroke="#000" stroke-width="1.3" transform="rotate(-35 481.4 900.5)"/>
<rect x="469.2" y="924.3" width="12" height="10" rx="1.5" fill="#fff" stroke="#000" stroke-width="1.0" transform="rotate(0 475.2 929.3)"/>
<ellipse cx="475.2" cy="929.3" rx="2.5" ry="3.8" fill="#fff" stroke="#000" stroke-width="1.3"/>
<rect x="478" y="957.7" width="12" height="10" rx="1.5" fill="#fff" stroke="#000" stroke-width="1.0" transform="rotate(40 484 962.7)"/>
<ellipse cx="484" cy="962.7" rx="2.5" ry="3.8" fill="#fff" stroke="#000" stroke-width="1.3" transform="rotate(40 484 962.7)"/>
<rect x="524.6" y="971" width="12" height="10" rx="1.5" fill="#fff" stroke="#000" stroke-width="1.0" transform="rotate(-40 530.6 976)"/>
<ellipse cx="530.6" cy="976" rx="2.5" ry="3.8" fill="#fff" stroke="#000" stroke-width="1.3" transform="rotate(-40 530.6 976)"/>
<rect x="533.4" y="940.1" width="12" height="10" rx="1.5" fill="#fff" stroke="#000" stroke-width="1.0" transform="rotate(5 539.4 945.1)"/>
<ellipse cx="539.4" cy="945.1" rx="2.5" ry="3.8" fill="#fff" stroke="#000" stroke-width="1.3" transform="rotate(5 539.4 945.1)"/>
<rect x="525" y="908" width="12" height="10" rx="1.5" fill="#fff" stroke="#000" stroke-width="1.0" transform="rotate(40 531 913)"/>
<ellipse cx="531" cy="913" rx="2.5" ry="3.8" fill="#fff" stroke="#000" stroke-width="1.3" transform="rotate(40 531 913)"/>
<circle cx="465.5" cy="974" r="1.4" fill="#000"/>
<circle cx="564" cy="997" r="1.4" fill="#000"/>
<polygon points="443.4,978.0 586.7,1011.2 586.7,1026.9 445.2,992.0" fill="#fff" stroke="#000" stroke-width="1.1" stroke-linejoin="round" />
<ellipse cx="446.9" cy="985" rx="4" ry="3.68" fill="#fff" stroke="#000" stroke-width="1.1"/>
<ellipse cx="446.9" cy="985" rx="2.0" ry="1.84" fill="#000" stroke="#000" stroke-width="1.0"/>
<ellipse cx="576.3" cy="1019.9" rx="4" ry="3.68" fill="#fff" stroke="#000" stroke-width="1.1"/>
<ellipse cx="576.3" cy="1019.9" rx="2.0" ry="1.84" fill="#000" stroke="#000" stroke-width="1.0"/>
<path d="M475,991 L498,996 L498,999 L475,994 Z" fill="none" stroke="#000" stroke-width="1.0" stroke-linejoin="round" />
<path d="M531,1003 L553,1008 L553,1011 L531,1006 Z" fill="none" stroke="#000" stroke-width="1.0" stroke-linejoin="round" />
<polygon points="338.8,870.2 362.4,856.4 388.7,864.3 370.3,875.4" fill="#fff" stroke="#000" stroke-width="1.0" stroke-linejoin="round" />
<polygon points="392.6,879.3 413.6,869.5 489.6,888.5 467.3,900.3" fill="#fff" stroke="#000" stroke-width="1.0" stroke-linejoin="round" />
<polygon points="320.5,872.8 338.8,877.4 338.8,871.0 467.3,900.3 467.3,943.6 407.0,927.8 404.0,922.0 400.5,921.3 396.5,925.2 338.2,910.8 331.6,906.9 321.1,902.9" fill="#fff" stroke="#000" stroke-width="1.1" stroke-linejoin="round" />
<polyline points="338.8,874.0 467.3,904.0" fill="none" stroke="#000" stroke-width="1.0" stroke-linejoin="round" />
<circle cx="323.8" cy="878" r="1.3" fill="#000"/>
<circle cx="324.2" cy="890.5" r="1.3" fill="#000"/>
<polyline points="338.2,910.8 338.2,960.0" fill="none" stroke="#000" stroke-width="1.0" stroke-linejoin="round" />
<polyline points="350.0,915.0 351.0,955.0" fill="none" stroke="#000" stroke-width="0.9" stroke-linejoin="round" />
<polyline points="359.0,917.0 360.0,955.0" fill="none" stroke="#000" stroke-width="0.9" stroke-linejoin="round" />
<path d="M316.4,879 L316.4,760.9 L348,768 C351,769 352.8,770 352.8,773 L353.9,861" fill="none" stroke="#000" stroke-width="1.0" stroke-linejoin="round" />
<path d="M320.7,879 L318.5,770 L350.1,777.5 L351.2,861" fill="none" stroke="#000" stroke-width="1.0" stroke-linejoin="round" />
<circle cx="332" cy="769" r="1.4" fill="#000"/>
<polyline points="287.5,492.0 291.7,952.0" fill="none" stroke="#000" stroke-width="1.1" stroke-linejoin="round" />
<polyline points="295.0,495.0 298.2,952.0" fill="none" stroke="#000" stroke-width="1.0" stroke-linejoin="round" />
<polyline points="299.8,492.0 304.7,952.0" fill="none" stroke="#000" stroke-width="1.0" stroke-linejoin="round" />
<polyline points="304.6,492.0 308.5,952.0" fill="none" stroke="#000" stroke-width="3.0" stroke-linejoin="round" />
<polyline points="313.0,495.0 316.4,952.0" fill="none" stroke="#000" stroke-width="1.0" stroke-linejoin="round" />
<polyline points="315.5,495.0 318.0,952.0" fill="none" stroke="#000" stroke-width="1.0" stroke-linejoin="round" />
<polyline points="287.2,491.6 308.0,490.0 315.5,494.0" fill="none" stroke="#000" stroke-width="1.1" stroke-linejoin="round" />
<line x1="289" y1="500" x2="292.9" y2="499.0" stroke="#000" stroke-width="4.4" stroke-linecap="round"/>
<line x1="289" y1="500" x2="292.9" y2="499.0" stroke="#fff" stroke-width="2.0" stroke-linecap="round"/>
<ellipse cx="289" cy="500" rx="3.4" ry="3.6" fill="#333" stroke="#000" stroke-width="1.2"/>
<circle cx="288.5" cy="499.5" r="1.2" fill="#fff"/>
<line x1="310" y1="500" x2="313.9" y2="499.0" stroke="#000" stroke-width="4.4" stroke-linecap="round"/>
<line x1="310" y1="500" x2="313.9" y2="499.0" stroke="#fff" stroke-width="2.0" stroke-linecap="round"/>
<ellipse cx="310" cy="500" rx="3.4" ry="3.6" fill="#333" stroke="#000" stroke-width="1.2"/>
<circle cx="309.5" cy="499.5" r="1.2" fill="#fff"/>
<ellipse cx="306.3" cy="490.5" rx="2.4" ry="2.208" fill="#fff" stroke="#000" stroke-width="1.1"/>
<ellipse cx="306.3" cy="490.5" rx="1.2" ry="1.104" fill="#000" stroke="#000" stroke-width="1.0"/>
<ellipse cx="313.2" cy="785.5" rx="2.8" ry="2.576" fill="#fff" stroke="#000" stroke-width="1.1"/>
<ellipse cx="313.2" cy="785.5" rx="1.4" ry="1.288" fill="#000" stroke="#000" stroke-width="1.0"/>
<ellipse cx="313.7" cy="859.4" rx="2.8" ry="2.576" fill="#fff" stroke="#000" stroke-width="1.1"/>
<ellipse cx="313.7" cy="859.4" rx="1.4" ry="1.288" fill="#000" stroke="#000" stroke-width="1.0"/>
<circle cx="312" cy="758" r="1.1" fill="#000"/>
<circle cx="313" cy="742" r="1.1" fill="#000"/>
<polygon points="111.0,543.5 185.4,528.6 424.4,590.5 362.5,607.8" fill="#fff" stroke="#000" stroke-width="1.1" stroke-linejoin="round" />
<polygon points="362.5,607.8 424.4,590.5 426.9,615.0 374.9,661.0" fill="#fff" stroke="#000" stroke-width="1.1" stroke-linejoin="round" />
<polygon points="111.0,543.5 362.5,607.8 374.9,661.0 123.5,596.7" fill="#fff" stroke="#000" stroke-width="1.1" stroke-linejoin="round" />
<polyline points="111.0,549.0 362.0,613.0" fill="none" stroke="#000" stroke-width="1.0" stroke-linejoin="round" />
<polyline points="113.0,553.0 362.0,617.0" fill="none" stroke="#000" stroke-width="1.6" stroke-linejoin="round" />
<path d="M130,562 C128,575 132,588 136,597" fill="none" stroke="#000" stroke-width="1.0" stroke-linejoin="round" />
<polyline points="136.0,597.0 374.0,658.0" fill="none" stroke="#000" stroke-width="1.8" stroke-linejoin="round" />
<polyline points="343.0,607.0 374.9,661.0" fill="none" stroke="#000" stroke-width="1.0" stroke-linejoin="round" />
<polyline points="362.5,607.8 371.0,604.0 426.0,590.0" fill="none" stroke="#000" stroke-width="1.0" stroke-linejoin="round" />
<polyline points="367.0,614.0 420.0,598.0" fill="none" stroke="#000" stroke-width="0.9" stroke-linejoin="round" />
<path d="M363,612 L374,659" fill="none" stroke="#000" stroke-width="1.0" stroke-linejoin="round" />
<polygon points="181.7,544.7 195.0,541.0 216.4,547.0 203.0,551.0" fill="#fff" stroke="#000" stroke-width="0.9" stroke-linejoin="round" />
<polygon points="237.4,565.7 270.9,557.0 299.4,565.7 265.9,574.9" fill="#fff" stroke="#000" stroke-width="1.0" stroke-linejoin="round" />
<polygon points="305.5,589.2 352.6,575.6 384.8,583.8 339.0,597.2" fill="#fff" stroke="#000" stroke-width="1.0" stroke-linejoin="round" />
<path d="M109.9,544.7 L112,541 L124,540 L124.8,547" fill="none" stroke="#000" stroke-width="1.0" stroke-linejoin="round" />
<ellipse cx="124.5" cy="555" rx="1.8" ry="2.2" fill="none" stroke="#000" stroke-width="0.9"/>
<ellipse cx="153.9" cy="592.3" rx="13.5" ry="16.8" fill="#fff" stroke="#000" stroke-width="1.2" transform="rotate(-15 153.9 592.3)"/>
<path d="M144,584 L150,578 L158,600 L153,603 Z" fill="#fff" stroke="#000" stroke-width="1.0" stroke-linejoin="round" />
<ellipse cx="283.9" cy="619" rx="14" ry="15" fill="#fff" stroke="#000" stroke-width="1.2" transform="rotate(-10 283.9 619)"/>
<polyline points="279.0,609.0 285.0,623.0 291.0,616.0" fill="none" stroke="#000" stroke-width="1.5" stroke-linejoin="round" />
<ellipse cx="317.9" cy="620.2" rx="1.8" ry="2.2" fill="none" stroke="#000" stroke-width="0.9"/>
<ellipse cx="347.6" cy="610.3" rx="2.2" ry="2.6" fill="none" stroke="#000" stroke-width="0.9"/>
<polygon points="324.1,623.0 334.0,621.4 336.0,638.0 326.0,640.0" fill="#fff" stroke="#000" stroke-width="1.1" stroke-linejoin="round" />
<path d="M334,621.4 L340,624 L340.5,638 L336,640 Z" fill="#222" stroke="#000" stroke-width="1.1" stroke-linejoin="round" />
<polyline points="326.0,625.0 333.0,624.0" fill="none" stroke="#000" stroke-width="1.0" stroke-linejoin="round" />
<path d="M108.8,659 L127.2,647.5 C140,645 160,646 168.4,649.8 C180,652 188,660 193.7,672.8 C195,690 196,715 196,734.7 C198,742 205,744 209.7,746.1 C216,749 218.9,752 218.9,758 L218.9,821.8 L200.6,826.4" fill="none" stroke="#000" stroke-width="1.0" stroke-linejoin="round" />
<path d="M108.8,659 L127.2,647.5 C140,645 160,646 168.4,649.8 C180,652 188,660 193.7,672.8 C195,690 196,715 196,734.7 C198,742 205,744 209.7,746.1 C216,749 218.9,752 218.9,758 L218.9,821.8 L200.6,826.4" fill="none" stroke="#000" stroke-width="1.0" transform="translate(-2.6,1.2)"/>
<path d="M108.8,659 L127.2,647.5 C140,645 160,646 168.4,649.8 C180,652 188,660 193.7,672.8 C195,690 196,715 196,734.7 C198,742 205,744 209.7,746.1 C216,749 218.9,752 218.9,758 L218.9,821.8 L200.6,826.4" fill="none" stroke="#000" stroke-width="1.0" transform="translate(-5,2.4)"/>
<polygon points="119.0,659.0 123.5,645.5 127.0,648.0 126.0,660.0" fill="#fff" stroke="#000" stroke-width="1.0" stroke-linejoin="round" />
<polygon points="177.6,670.0 194.0,664.0 198.3,670.0 198.3,684.2 192.0,685.0 190.0,672.0" fill="#fff" stroke="#000" stroke-width="1.0" stroke-linejoin="round" />
<ellipse cx="194.6" cy="673" rx="2" ry="2.6" fill="none" stroke="#000" stroke-width="1.0"/>
<polygon points="189.0,752.0 205.0,748.0 219.0,750.0 221.0,760.0 210.0,766.8 200.0,763.0" fill="#fff" stroke="#000" stroke-width="1.0" stroke-linejoin="round" />
<ellipse cx="214" cy="756" rx="2" ry="2.6" fill="none" stroke="#000" stroke-width="1.0"/>
<polygon points="186.0,826.0 194.0,822.0 200.6,826.4 201.0,833.0 194.0,831.0" fill="#fff" stroke="#000" stroke-width="1.0" stroke-linejoin="round" />
<path d="M77.8,724.4 L95,672.8 C97,666 102,662 106.5,662.4 L136.3,665.9 C145,668 151,673 152.4,679.6 C155,690 156,700 157,711.7 L161.6,757.6 C162,763 166,766 173,766.8 C176,768 177.6,772 177.6,780 L177.6,826.4 L173,831 L85.9,803.5 C82,801 80.1,798 80.1,794.3 Z" fill="#fff" stroke="#000" stroke-width="1.1" stroke-linejoin="round" />
<path d="M138,668 C147,671 153,678 154.5,685 C157,700 158,710 159,720 L163.5,757 C164.5,762 168,764 174,765" fill="none" stroke="#000" stroke-width="0.9" stroke-linejoin="round" />
<ellipse cx="114.5" cy="697.5" rx="4.8" ry="5.6" fill="#fff" stroke="#000" stroke-width="1.2"/>
<path d="M116,692.2 L123,690.5 C127,692 127.5,702 123,704 L116,703" fill="#fff" stroke="#000" stroke-width="1.1" stroke-linejoin="round" />
<ellipse cx="114.5" cy="697.5" rx="4.8" ry="5.6" fill="#fff" stroke="#000" stroke-width="1.2"/>
<line x1="75.5" y1="668.2" x2="84.9" y2="664.8" stroke="#000" stroke-width="4.4" stroke-linecap="round"/>
<line x1="75.5" y1="668.2" x2="84.9" y2="664.8" stroke="#fff" stroke-width="2.0" stroke-linecap="round"/>
<ellipse cx="75.5" cy="668.2" rx="3.4" ry="3.6" fill="#333" stroke="#000" stroke-width="1.2"/>
<circle cx="75.0" cy="667.7" r="1.2" fill="#fff"/>
<line x1="168.4" y1="678.5" x2="177.8" y2="675.1" stroke="#000" stroke-width="4.4" stroke-linecap="round"/>
<line x1="168.4" y1="678.5" x2="177.8" y2="675.1" stroke="#fff" stroke-width="2.0" stroke-linecap="round"/>
<ellipse cx="168.4" cy="678.5" rx="3.4" ry="3.6" fill="#333" stroke="#000" stroke-width="1.2"/>
<circle cx="167.9" cy="678.0" r="1.2" fill="#fff"/>
<line x1="59.5" y1="742.7" x2="68.9" y2="739.3" stroke="#000" stroke-width="4.4" stroke-linecap="round"/>
<line x1="59.5" y1="742.7" x2="68.9" y2="739.3" stroke="#fff" stroke-width="2.0" stroke-linecap="round"/>
<ellipse cx="59.5" cy="742.7" rx="3.4" ry="3.6" fill="#333" stroke="#000" stroke-width="1.2"/>
<circle cx="59.0" cy="742.2" r="1.2" fill="#fff"/>
<line x1="198.3" y1="763.3" x2="207.7" y2="759.9" stroke="#000" stroke-width="4.4" stroke-linecap="round"/>
<line x1="198.3" y1="763.3" x2="207.7" y2="759.9" stroke="#fff" stroke-width="2.0" stroke-linecap="round"/>
<ellipse cx="198.3" cy="763.3" rx="3.4" ry="3.6" fill="#333" stroke="#000" stroke-width="1.2"/>
<circle cx="197.8" cy="762.8" r="1.2" fill="#fff"/>
<line x1="84.7" y1="818.4" x2="94.1" y2="815.0" stroke="#000" stroke-width="4.4" stroke-linecap="round"/>
<line x1="84.7" y1="818.4" x2="94.1" y2="815.0" stroke="#fff" stroke-width="2.0" stroke-linecap="round"/>
<ellipse cx="84.7" cy="818.4" rx="3.4" ry="3.6" fill="#333" stroke="#000" stroke-width="1.2"/>
<circle cx="84.2" cy="817.9" r="1.2" fill="#fff"/>
<line x1="143.2" y1="842.5" x2="152.6" y2="839.1" stroke="#000" stroke-width="4.4" stroke-linecap="round"/>
<line x1="143.2" y1="842.5" x2="152.6" y2="839.1" stroke="#fff" stroke-width="2.0" stroke-linecap="round"/>
<ellipse cx="143.2" cy="842.5" rx="3.4" ry="3.6" fill="#333" stroke="#000" stroke-width="1.2"/>
<circle cx="142.7" cy="842.0" r="1.2" fill="#fff"/>
<path d="M101.6,894.9 L174.3,870.2 L217.9,881.8 L248.4,890.5 L247.7,893 L199,906.5 C186,913 178,920 174,935 C171,945 170,955 170,965 L170,1040 C171,1045 175,1046 180,1046 L174.3,1046 L104.5,1028.6 C100,1025 98,1018 98,1012.6 L98,899.2 C98,897 99.5,895.5 101.6,894.9 Z" fill="#fff" stroke="#000" stroke-width="1.1" stroke-linejoin="round" />
<polyline points="100.2,902.1 135.8,910.1" fill="none" stroke="#000" stroke-width="1.1" stroke-linejoin="round" />
<path d="M135.8,910.1 C138,912 139,915 139,920 L139,956" fill="none" stroke="#000" stroke-width="1.1" stroke-linejoin="round" />
<polyline points="97.3,947.2 136.5,957.4" fill="none" stroke="#000" stroke-width="1.6" stroke-linejoin="round" />
<polyline points="136.5,953.0 169.2,960.3" fill="none" stroke="#000" stroke-width="1.0" stroke-linejoin="round" />
<path d="M139,956 C143,935 150,918 162,905" fill="none" stroke="#000" stroke-width="1.0" stroke-linejoin="round" />
<polyline points="142.3,906.0 218.0,882.5" fill="none" stroke="#000" stroke-width="1.0" stroke-linejoin="round" />
<polyline points="162.7,898.5 216.4,882.5" fill="none" stroke="#000" stroke-width="1.0" stroke-linejoin="round" />
<polyline points="168.5,899.2 199.0,906.5" fill="none" stroke="#000" stroke-width="1.0" stroke-linejoin="round" />
<polyline points="201.0,905.0 247.0,891.5" fill="none" stroke="#000" stroke-width="1.0" stroke-linejoin="round" />
<ellipse cx="121.7" cy="930.2" rx="4.4" ry="5.5" fill="none" stroke="#000" stroke-width="1.1"/>
<path d="M166,1020 C163,1020 163,1026 167,1026" fill="none" stroke="#000" stroke-width="1.0" stroke-linejoin="round" />
<polygon points="196.7,970.2 263.7,950.9 288.8,957.6 222.7,978.6" fill="#fff" stroke="#000" stroke-width="1.1" stroke-linejoin="round" />
<polygon points="196.7,970.2 222.7,978.6 222.7,1028.8 196.7,1023.8" fill="#fff" stroke="#000" stroke-width="1.1" stroke-linejoin="round" />
<polygon points="222.7,978.6 288.8,957.6 288.8,1010.0 222.7,1028.8" fill="#fff" stroke="#000" stroke-width="1.1" stroke-linejoin="round" />
<ellipse cx="209.3" cy="987" rx="4.2" ry="5.9" fill="none" stroke="#000" stroke-width="1.1"/>
<path d="M342.4,958.5 L370.9,949.3 C388,948 397,962 396,978.6 C395,992 390,1002 384.3,1003.7 L357.5,1006.2 Z" fill="#fff" stroke="#000" stroke-width="1.1" stroke-linejoin="round" />
<path d="M377,950 C389,955 394,968 393,980" fill="none" stroke="#000" stroke-width="0.9" stroke-linejoin="round" />
<path d="M315.6,960 L318,946 L325,943.4 L333,945 L335.7,960 Z" fill="#fff" stroke="#000" stroke-width="1.1" stroke-linejoin="round" />
<ellipse cx="325.5" cy="951" rx="2.6" ry="3" fill="none" stroke="#000" stroke-width="1.0"/>
<path d="M246,1031 L216,1036 C211,1038 211,1052 216,1054 L246,1050 Z" fill="#fff" stroke="#000" stroke-width="1.1" stroke-linejoin="round" />
<ellipse cx="216" cy="1045" rx="3.2" ry="9" fill="#fff" stroke="#000" stroke-width="1.0"/>
<polygon points="212.0,1052.0 228.0,1049.0 229.0,1058.0 213.0,1061.0" fill="#fff" stroke="#000" stroke-width="1.0" stroke-linejoin="round" />
<polyline points="216.0,1053.0 216.0,1060.0" fill="none" stroke="#000" stroke-width="0.9" stroke-linejoin="round" />
<polyline points="222.0,1052.0 222.0,1059.0" fill="none" stroke="#000" stroke-width="0.9" stroke-linejoin="round" />
<path d="M242,1009 L257,1006 L257,1104 L244,1104 L242,1100 Z" fill="#fff" stroke="#000" stroke-width="1.0" stroke-linejoin="round" />
<polyline points="245.0,1010.0 245.0,1099.0" fill="none" stroke="#000" stroke-width="0.9" stroke-linejoin="round" />
<polygon points="240.0,1096.0 258.0,1093.0 260.0,1103.0 242.0,1107.0" fill="#fff" stroke="#000" stroke-width="1.0" stroke-linejoin="round" />
<path d="M257,1005 C263,986 280,971 305,965 L345,960 L358,985 L372,1008 L381,1017 C384,1030 386,1060 386,1076 L386,1097 C386,1106 381,1111 373,1112.6 L292,1128.5 C276,1131 263,1128 262,1121 Z" fill="#fff" stroke="#000" stroke-width="1.2" stroke-linejoin="round" />
<path d="M261,1003 C267,987 283,974 306,968 L343,962" fill="none" stroke="#000" stroke-width="1.0" stroke-linejoin="round" />
<path d="M265,1003 C271,990 286,978 308,972 L343,966" fill="none" stroke="#000" stroke-width="1.0" stroke-linejoin="round" />
<path d="M269,1004 C275,993 289,982 310,976" fill="none" stroke="#000" stroke-width="0.9" stroke-linejoin="round" />
<path d="M284,1020 C287,1000 296,985 318,975" fill="none" stroke="#000" stroke-width="0.9" stroke-linejoin="round" />
<polygon points="290.5,951.8 350.8,963.5 350.0,967.0 291.0,956.0" fill="#fff" stroke="#000" stroke-width="1.0" stroke-linejoin="round" />
<polyline points="266.0,1006.0 267.0,1124.0" fill="none" stroke="#000" stroke-width="1.0" stroke-linejoin="round" />
<polygon points="264.5,1043.9 276.3,1046.0 276.3,1105.9 264.5,1103.8" fill="#fff" stroke="#000" stroke-width="1.0" stroke-linejoin="round" />
<polyline points="285.5,1022.0 286.0,1128.0" fill="none" stroke="#000" stroke-width="1.0" stroke-linejoin="round" />
<polyline points="288.8,1022.0 289.3,1128.0" fill="none" stroke="#000" stroke-width="1.0" stroke-linejoin="round" />
<polyline points="293.9,1020.0 294.4,1127.0" fill="none" stroke="#000" stroke-width="1.0" stroke-linejoin="round" />
<polygon points="296.0,1024.0 312.0,1019.0 312.0,1034.0 296.0,1038.0" fill="#fff" stroke="#000" stroke-width="1.0" stroke-linejoin="round" />
<path d="M314,1034 C318,1040 316,1060 320,1070 C323,1078 318,1085 322,1092 L321,1125" fill="none" stroke="#000" stroke-width="1.0" stroke-linejoin="round" />
<path d="M317.3,1034 C321,1040 319,1060 323,1070 C326,1078 321,1085 325,1092 L324,1124" fill="none" stroke="#000" stroke-width="1.0" stroke-linejoin="round" />
<ellipse cx="302.2" cy="1052.3" rx="2.6" ry="3" fill="none" stroke="#000" stroke-width="1.1"/>
<polygon points="305.0,1040.0 311.0,1039.0 311.0,1055.0 305.0,1056.0" fill="#fff" stroke="#000" stroke-width="1.0" stroke-linejoin="round" />
<path d="M298.9,1076 L318,1073 C322,1074 324,1078 324,1083 C324,1088 321,1090 318,1090.8 L300,1092 Z" fill="#fff" stroke="#000" stroke-width="1.0" stroke-linejoin="round" />
<ellipse cx="302.5" cy="1081" rx="2.2" ry="2.6" fill="none" stroke="#000" stroke-width="1.0"/>
<path d="M309.8,978.6 L309.8,1008.7 L355.8,1008.7 L355.8,978.6" fill="#fff" stroke="#000" stroke-width="1.1" stroke-linejoin="round" />
<ellipse cx="332.8" cy="978.6" rx="23" ry="5.9" fill="#fff" stroke="#000" stroke-width="1.1"/>
<polyline points="309.8,985.0 304.0,1013.0" fill="none" stroke="#000" stroke-width="1.0" stroke-linejoin="round" />
<polygon points="302.2,1015.4 340.0,1006.0 372.6,1008.7 372.6,1012.0 330.7,1023.8 302.2,1019.0" fill="#fff" stroke="#000" stroke-width="1.0" stroke-linejoin="round" />
<circle cx="318" cy="1013" r="1.0" fill="#000"/>
<circle cx="324" cy="1012" r="1.0" fill="#000"/>
<path d="M378,1012 C374,1016 374,1022 380,1024" fill="none" stroke="#000" stroke-width="1.0" stroke-linejoin="round" />
<path d="M383,1040 C379,1045 379,1052 384,1056" fill="none" stroke="#000" stroke-width="1.0" stroke-linejoin="round" />
<ellipse cx="373" cy="1085" rx="0.8" ry="0.8" fill="none" stroke="#000" stroke-width="0.8"/>
<polyline points="151.2,449.8 161.6,541.6" fill="none" stroke="#000" stroke-width="1.0" stroke-dasharray="4.3 2.3"/>
<polygon points="161.6,541.6 153.0,520.4 159.7,524.5 165.3,519.0" fill="#000"/>
<polyline points="298.7,393.4 309.2,484.2" fill="none" stroke="#000" stroke-width="1.0" stroke-dasharray="4.3 2.3"/>
<polygon points="309.2,484.2 300.5,463.1 307.2,467.2 312.8,461.6" fill="#000"/>
<polyline points="387.5,348.2 496.0,570.6" fill="none" stroke="#000" stroke-width="1.0" stroke-dasharray="4.3 2.3"/>
<polygon points="496.0,570.6 480.8,553.5 488.5,555.2 491.9,548.1" fill="#000"/>
<polyline points="473.0,328.7 566.0,547.7" fill="none" stroke="#000" stroke-width="1.0" stroke-dasharray="4.3 2.3"/>
<polygon points="566.0,547.7 551.7,529.9 559.3,531.9 563.1,525.0" fill="#000"/>
<polyline points="700.2,329.0 700.2,349.0" fill="none" stroke="#000" stroke-width="1.0" stroke-dasharray="4.3 2.3"/>
<polyline points="700.2,349.0 700.2,462.0" fill="none" stroke="#000" stroke-width="1.0" stroke-linejoin="round" />
<polyline points="698.7,465.0 558.8,608.5" fill="none" stroke="#000" stroke-width="1.0" stroke-dasharray="4.3 2.3"/>
<polygon points="558.8,608.5 569.7,588.4 570.8,596.2 578.6,597.1" fill="#000"/>
<polyline points="752.2,336.9 751.1,425.6" fill="none" stroke="#000" stroke-width="1.0" stroke-dasharray="4.3 2.3"/>
<polygon points="751.1,425.6 745.2,403.5 751.3,408.4 757.6,403.7" fill="#000"/>
<polyline points="890.4,354.2 891.8,508.4 669.3,590.4" fill="none" stroke="#000" stroke-width="1.0" stroke-dasharray="4.3 2.3"/>
<polygon points="669.3,590.4 687.8,577.0 685.4,584.5 692.1,588.6" fill="#000"/>
<polyline points="880.9,559.8 609.4,647.9" fill="none" stroke="#000" stroke-width="1.0" stroke-dasharray="4.3 2.3"/>
<polygon points="609.4,647.9 628.4,635.2 625.7,642.6 632.2,647.0" fill="#000"/>
<polyline points="883.4,655.2 646.0,684.6" fill="none" stroke="#000" stroke-width="1.0" stroke-dasharray="4.3 2.3"/>
<polygon points="646.0,684.6 667.1,675.7 663.0,682.5 668.6,688.0" fill="#000"/>
<polyline points="879.2,697.3 589.9,713.4" fill="none" stroke="#000" stroke-width="1.0" stroke-dasharray="4.3 2.3"/>
<polygon points="589.9,713.4 611.5,706.0 607.0,712.4 612.2,718.4" fill="#000"/>
<polyline points="881.5,731.3 741.6,737.5" fill="none" stroke="#000" stroke-width="1.0" stroke-dasharray="4.3 2.3"/>
<polygon points="741.6,737.5 763.3,730.3 758.7,736.7 763.9,742.7" fill="#000"/>
<polyline points="882.6,769.6 656.7,769.6" fill="none" stroke="#000" stroke-width="1.0" stroke-dasharray="22 2 3 2"/>
<polyline points="656.7,769.6 506.4,720.9" fill="none" stroke="#000" stroke-width="1.0" stroke-dasharray="4.3 2.3"/>
<polygon points="506.4,720.9 529.2,721.8 522.7,726.2 525.4,733.6" fill="#000"/>
<polyline points="774.8,813.2 656.7,804.7 570.3,782.2" fill="none" stroke="#000" stroke-width="1.0" stroke-dasharray="4.3 2.3"/>
<polygon points="570.3,782.2 593.2,781.7 586.9,786.5 590.0,793.7" fill="#000"/>
<polyline points="883.8,857.4 779.4,857.4" fill="none" stroke="#000" stroke-width="1.0" stroke-dasharray="4.3 2.3"/>
<polygon points="779.4,857.4 801.4,851.2 796.6,857.4 801.4,863.6" fill="#000"/>
<polyline points="883.8,893.4 707.2,893.4" fill="none" stroke="#000" stroke-width="1.0" stroke-dasharray="4.3 2.3"/>
<polygon points="707.2,893.4 729.2,887.2 724.4,893.4 729.2,899.6" fill="#000"/>
<polyline points="883.8,926.7 621.0,917.4 515.8,847.2" fill="none" stroke="#000" stroke-width="1.0" stroke-dasharray="4.3 2.3"/>
<polygon points="515.8,847.2 537.5,854.3 530.1,856.7 530.7,864.6" fill="#000"/>
<polyline points="881.8,969.7 553.4,968.5" fill="none" stroke="#000" stroke-width="1.0" stroke-dasharray="4.3 2.3"/>
<polygon points="553.4,968.5 575.4,962.4 570.6,968.6 575.4,974.8" fill="#000"/>
<polyline points="866.0,1031.4 736.3,988.2" fill="none" stroke="#000" stroke-width="1.0" stroke-dasharray="4.3 2.3"/>
<polygon points="736.3,988.2 759.1,989.3 752.6,993.6 755.2,1001.0" fill="#000"/>
<polyline points="787.4,1099.5 620.2,1088.5 500.3,1055.0" fill="none" stroke="#000" stroke-width="1.0" stroke-dasharray="4.3 2.3"/>
<polygon points="500.3,1055.0 523.2,1054.9 516.8,1059.6 519.8,1066.9" fill="#000"/>
<polyline points="631.8,1184.7 435.4,1111.0 435.4,919.3" fill="none" stroke="#000" stroke-width="1.0" stroke-dasharray="4.3 2.3"/>
<polygon points="435.4,919.3 441.6,941.3 435.4,936.5 429.2,941.3" fill="#000"/>
<polyline points="598.4,1262.2 399.7,1173.7 400.0,847.2" fill="none" stroke="#000" stroke-width="1.0" stroke-dasharray="4.3 2.3"/>
<polygon points="400.0,847.2 406.2,869.2 400.0,864.4 393.8,869.2" fill="#000"/>
<polyline points="464.6,1260.2 340.0,1189.5 340.0,992.6" fill="none" stroke="#000" stroke-width="1.0" stroke-dasharray="4.3 2.3"/>
<polygon points="340.0,992.6 346.2,1014.6 340.0,1009.8 333.8,1014.6" fill="#000"/>
<polyline points="313.2,1203.2 228.2,1105.6 256.8,1078.4" fill="none" stroke="#000" stroke-width="1.0" stroke-dasharray="4.3 2.3"/>
<polygon points="256.8,1078.4 245.1,1098.1 244.4,1090.2 236.6,1089.1" fill="#000"/>
<polyline points="281.8,1203.2 195.7,1100.4 233.4,1060.2" fill="none" stroke="#000" stroke-width="1.0" stroke-dasharray="4.3 2.3"/>
<polygon points="233.4,1060.2 222.9,1080.5 221.7,1072.7 213.8,1072.0" fill="#000"/>
<polyline points="248.3,1203.2 168.4,1101.7 210.0,992.6" fill="none" stroke="#000" stroke-width="1.0" stroke-dasharray="4.3 2.3"/>
<polygon points="210.0,992.6 208.0,1015.4 203.9,1008.6 196.4,1010.9" fill="#000"/>
<polyline points="215.2,931.5 216.5,965.3" fill="none" stroke="#000" stroke-width="1.0" stroke-dasharray="4.3 2.3"/>
<polygon points="216.5,965.3 209.5,943.6 215.8,948.2 221.8,943.1" fill="#000"/>
<polyline points="259.4,931.5 259.4,988.7" fill="none" stroke="#000" stroke-width="1.0" stroke-dasharray="4.3 2.3"/>
<polygon points="259.4,988.7 253.2,966.7 259.4,971.5 265.6,966.7" fill="#000"/>
<polyline points="106.5,852.8 165.0,906.7" fill="none" stroke="#000" stroke-width="1.0" stroke-dasharray="4.3 2.3"/>
<polygon points="165.0,906.7 144.6,896.4 152.4,895.1 153.0,887.2" fill="#000"/>
<polyline points="228.0,816.0 118.0,761.7" fill="none" stroke="#000" stroke-width="1.0" stroke-dasharray="4.3 2.3"/>
<polygon points="118.0,761.7 140.5,765.9 133.4,769.3 135.0,777.0" fill="#000"/>
<polyline points="254.4,781.7 340.0,803.5" fill="none" stroke="#000" stroke-width="1.0" stroke-dasharray="4.3 2.3"/>
<polygon points="340.0,803.5 317.2,804.1 323.4,799.3 320.2,792.1" fill="#000"/>
<polyline points="225.8,729.6 122.6,694.5" fill="none" stroke="#000" stroke-width="1.0" stroke-dasharray="4.3 2.3"/>
<polygon points="122.6,694.5 145.4,695.7 138.8,700.0 141.4,707.5" fill="#000"/>
<polyline points="393.6,797.8 458.6,809.5" fill="none" stroke="#000" stroke-width="1.0" stroke-dasharray="4.3 2.3"/>
<polygon points="458.6,809.5 435.8,811.7 441.7,806.5 438.0,799.5" fill="#000"/>
<polyline points="398.8,722.9 427.4,726.3" fill="none" stroke="#000" stroke-width="1.0" stroke-dasharray="4.3 2.3"/>
<polygon points="427.4,726.3 404.8,729.9 410.4,724.3 406.3,717.5" fill="#000"/>
<polyline points="397.5,687.3 450.8,696.4" fill="none" stroke="#000" stroke-width="1.0" stroke-dasharray="4.3 2.3"/>
<polygon points="450.8,696.4 428.1,698.8 433.9,693.5 430.2,686.6" fill="#000"/>
<polyline points="330.8,676.2 330.8,644.0" fill="none" stroke="#000" stroke-width="1.0" stroke-dasharray="4.3 2.3"/>
<polygon points="330.8,644.0 337.0,666.0 330.8,661.2 324.6,666.0" fill="#000"/>
<polyline points="274.0,668.2 278.5,630.3" fill="none" stroke="#000" stroke-width="1.0" stroke-dasharray="4.3 2.3"/>
<polygon points="278.5,630.3 282.1,652.9 276.5,647.3 269.7,651.4" fill="#000"/>
<polyline points="228.7,659.6 228.7,626.1" fill="none" stroke="#000" stroke-width="1.0" stroke-dasharray="4.3 2.3"/>
<polygon points="228.7,626.1 234.9,648.1 228.7,643.3 222.5,648.1" fill="#000"/>
<polyline points="198.3,645.9 198.3,617.2" fill="none" stroke="#000" stroke-width="1.0" stroke-dasharray="4.3 2.3"/>
<polygon points="198.3,617.2 204.5,639.2 198.3,634.4 192.1,639.2" fill="#000"/>
<polyline points="99.6,625.3 143.2,597.8" fill="none" stroke="#000" stroke-width="1.0" stroke-dasharray="4.3 2.3"/>
<polygon points="143.2,597.8 127.9,614.8 128.7,607.0 121.3,604.3" fill="#000"/></g>
<g class="leg">
<text x="959.8" y="17.0" textLength="9.6" lengthAdjust="spacingAndGlyphs">1</text>
<text x="992.3" y="17.0" textLength="245.9" lengthAdjust="spacingAndGlyphs">CONTROL BOX ASSEMBLY</text>
<text x="959.8" y="42.1" textLength="9.6" lengthAdjust="spacingAndGlyphs">2</text>
<text x="992.3" y="42.1" textLength="190.7" lengthAdjust="spacingAndGlyphs">CASING SIDE PANEL</text>
<text x="959.8" y="67.2" textLength="9.6" lengthAdjust="spacingAndGlyphs">3</text>
<text x="992.3" y="67.2" textLength="350.5" lengthAdjust="spacingAndGlyphs">FLUE OVERHEAT THERMOSTAT PHIAL</text>
<text x="959.8" y="92.3" textLength="9.6" lengthAdjust="spacingAndGlyphs">4</text>
<text x="992.3" y="92.3" textLength="168.3" lengthAdjust="spacingAndGlyphs">AIR INLET CASING</text>
<text x="959.8" y="117.4" textLength="9.6" lengthAdjust="spacingAndGlyphs">5</text>
<text x="992.3" y="117.4" textLength="356.2" lengthAdjust="spacingAndGlyphs">FLEXIBLE AIR DUCT (CONNECTING TO</text>
<text x="991.6" y="142.4" textLength="234.0" lengthAdjust="spacingAndGlyphs">AIR INTAKE ON BURNER)</text>
<text x="959.8" y="167.5" textLength="9.6" lengthAdjust="spacingAndGlyphs">6</text>
<text x="992.3" y="167.5" textLength="237.1" lengthAdjust="spacingAndGlyphs">CASING SUPPORT PANEL</text>
<text x="959.8" y="192.6" textLength="9.6" lengthAdjust="spacingAndGlyphs">7</text>
<text x="992.3" y="192.6" textLength="302.6" lengthAdjust="spacingAndGlyphs">SECONDARY HEAT EXCHANGER</text>
<text x="991.6" y="217.7" textLength="347.2" lengthAdjust="spacingAndGlyphs">BLEED POINT (ONE ON EITHER SIDE)</text>
<text x="959.8" y="242.8" textLength="9.6" lengthAdjust="spacingAndGlyphs">8</text>
<text x="992.3" y="242.8" textLength="302.6" lengthAdjust="spacingAndGlyphs">SECONDARY HEAT EXCHANGER</text>
<text x="959.8" y="267.9" textLength="9.6" lengthAdjust="spacingAndGlyphs">9</text>
<text x="992.3" y="267.9" textLength="302.6" lengthAdjust="spacingAndGlyphs">SECONDARY HEAT EXCHANGER</text>
<text x="991.6" y="293.0" textLength="59.6" lengthAdjust="spacingAndGlyphs">DRAIN</text>
<text x="959.8" y="318.1" textLength="21.2" lengthAdjust="spacingAndGlyphs">10</text>
<text x="992.3" y="318.1" textLength="210.2" lengthAdjust="spacingAndGlyphs">CONDENSATE OUTLET</text>
<text x="959.8" y="343.2" textLength="21.2" lengthAdjust="spacingAndGlyphs">11</text>
<text x="992.3" y="343.2" textLength="275.5" lengthAdjust="spacingAndGlyphs">FLOW/OPTIONAL OPEN VENT</text>
<text x="991.6" y="368.3" textLength="358.2" lengthAdjust="spacingAndGlyphs">CONNECTION (NOT USED ON SYSTEM)</text>
<text x="959.8" y="393.4" textLength="21.2" lengthAdjust="spacingAndGlyphs">12</text>
<text x="992.3" y="393.4" textLength="316.8" lengthAdjust="spacingAndGlyphs">BAFFLE RETAINER ACCESS DOOR</text>
<text x="959.8" y="418.4" textLength="21.2" lengthAdjust="spacingAndGlyphs">13</text>
<text x="992.3" y="418.4" textLength="264.8" lengthAdjust="spacingAndGlyphs">CONTROL &amp; MANUAL RESET</text>
<text x="991.6" y="443.5" textLength="314.1" lengthAdjust="spacingAndGlyphs">OVERHEAT THERMOSTAT PHIAL &amp;</text>
<text x="959.8" y="468.6" textLength="21.2" lengthAdjust="spacingAndGlyphs">14</text>
<text x="992.3" y="468.6" textLength="229.2" lengthAdjust="spacingAndGlyphs">AUTO-RESET HIGH LIMIT</text>
<text x="991.6" y="493.7" textLength="299.2" lengthAdjust="spacingAndGlyphs">THERMOSTAT PHIAL (LOCATION)</text>
<text x="959.8" y="518.8" textLength="21.2" lengthAdjust="spacingAndGlyphs">15</text>
<text x="992.3" y="518.8" textLength="270.8" lengthAdjust="spacingAndGlyphs">SYSTEM EXPANSION VESSEL</text>
<text x="959.8" y="543.9" textLength="21.2" lengthAdjust="spacingAndGlyphs">16</text>
<text x="992.3" y="543.9" textLength="269.5" lengthAdjust="spacingAndGlyphs">PRIMARY HEAT EXCHANGER</text>
<text x="959.8" y="569.0" textLength="21.2" lengthAdjust="spacingAndGlyphs">17</text>
<text x="992.3" y="569.0" textLength="278.1" lengthAdjust="spacingAndGlyphs">CONDENSATE TRAP &amp; BRACKET</text>
<text x="1275.4" y="569.0" textLength="73" lengthAdjust="spacingAndGlyphs">(supplied)</text>
<text x="959.8" y="594.1" textLength="21.2" lengthAdjust="spacingAndGlyphs">18</text>
<text x="992.3" y="594.1" textLength="315.9" lengthAdjust="spacingAndGlyphs">COMBUSTION CHAMBER ACCESS</text>
<text x="991.6" y="619.2" textLength="56.4" lengthAdjust="spacingAndGlyphs">DOOR</text>
<text x="959.8" y="644.2" textLength="21.2" lengthAdjust="spacingAndGlyphs">19</text>
<text x="991.2" y="644.2" textLength="241.3" lengthAdjust="spacingAndGlyphs">DRAIN/OPTIONAL FEED &amp;</text>
<text x="991.6" y="669.3" textLength="244.7" lengthAdjust="spacingAndGlyphs">EXPANSION CONNECTION</text>
<text x="959.8" y="694.4" textLength="21.2" lengthAdjust="spacingAndGlyphs">20</text>
<text x="992.3" y="694.4" textLength="303.3" lengthAdjust="spacingAndGlyphs">BASE PLATE AND OIL DRIP TRAY</text>
<text x="959.8" y="719.5" textLength="21.2" lengthAdjust="spacingAndGlyphs">21</text>
<text x="992.3" y="719.5" textLength="176.2" lengthAdjust="spacingAndGlyphs">DEFLECTOR PLATE</text>
<text x="959.8" y="744.6" textLength="21.2" lengthAdjust="spacingAndGlyphs">22</text>
<text x="992.3" y="744.6" textLength="278.0" lengthAdjust="spacingAndGlyphs">OIL SUPPLY ISOLATING VALVE</text>
<text x="959.8" y="769.7" textLength="21.2" lengthAdjust="spacingAndGlyphs">23</text>
<text x="992.3" y="769.7" textLength="326.9" lengthAdjust="spacingAndGlyphs">BURNER AIR INTAKE (CONNECTED</text>
<text x="991.6" y="794.8" textLength="275.6" lengthAdjust="spacingAndGlyphs">BY FLEXIBLE DUCT (5) TO AIR</text>
<text x="991.6" y="819.9" textLength="173.7" lengthAdjust="spacingAndGlyphs">INLET CASING (4) )</text>
<text x="959.8" y="845.0" textLength="21.2" lengthAdjust="spacingAndGlyphs">24</text>
<text x="992.3" y="845.0" textLength="156.6" lengthAdjust="spacingAndGlyphs">BURNER MOTOR</text>
<text x="959.8" y="870.1" textLength="21.2" lengthAdjust="spacingAndGlyphs">25</text>
<text x="991.2" y="870.1" textLength="358.9" lengthAdjust="spacingAndGlyphs">OIL PUMP (BEHIND PLASTIC COVER)</text>
<text x="959.8" y="895.1" textLength="21.2" lengthAdjust="spacingAndGlyphs">26</text>
<text x="992.3" y="895.1" textLength="352.2" lengthAdjust="spacingAndGlyphs">LOCKOUT RESET BUTTON (ON FRONT</text>
<text x="991.6" y="920.2" textLength="265.5" lengthAdjust="spacingAndGlyphs">OF BURNER CONTROL BOX)</text>
<text x="959.8" y="945.3" textLength="21.2" lengthAdjust="spacingAndGlyphs">27</text>
<text x="992.3" y="945.3" textLength="228.2" lengthAdjust="spacingAndGlyphs">BURNER CONTROL BOX</text>
<text x="959.8" y="970.4" textLength="21.2" lengthAdjust="spacingAndGlyphs">28</text>
<text x="992.3" y="970.4" textLength="203.9" lengthAdjust="spacingAndGlyphs">RIELLO RDB BURNER</text>
<text x="959.8" y="995.5" textLength="21.2" lengthAdjust="spacingAndGlyphs">29</text>
<text x="992.3" y="995.5" textLength="275.5" lengthAdjust="spacingAndGlyphs">RIELLO RDB BURNER COVER</text>
<text x="959.8" y="1020.6" textLength="21.2" lengthAdjust="spacingAndGlyphs">30</text>
<text x="992.3" y="1020.6" textLength="308.6" lengthAdjust="spacingAndGlyphs">FLUE MANIFOLD ACCESS COVER</text>
<text x="959.8" y="1045.7" textLength="21.2" lengthAdjust="spacingAndGlyphs">31</text>
<text x="992.3" y="1045.7" textLength="114.7" lengthAdjust="spacingAndGlyphs">DATA LABEL</text>
<text x="959.8" y="1070.8" textLength="21.2" lengthAdjust="spacingAndGlyphs">32</text>
<text x="992.3" y="1070.8" textLength="262.3" lengthAdjust="spacingAndGlyphs">FLUE GAS SAMPLING POINT</text>
<text x="959.8" y="1095.9" textLength="21.2" lengthAdjust="spacingAndGlyphs">33</text>
<text x="992.3" y="1095.9" textLength="244.9" lengthAdjust="spacingAndGlyphs">SYSTEM PUMP ASSEMBLY</text>
<text x="959.8" y="1121.0" textLength="21.2" lengthAdjust="spacingAndGlyphs">34</text>
<text x="992.3" y="1121.0" textLength="320.6" lengthAdjust="spacingAndGlyphs">SYSTEM PRESSURE RELIEF VALVE</text>
<text x="959.8" y="1146.0" textLength="21.2" lengthAdjust="spacingAndGlyphs">35</text>
<text x="992.3" y="1146.0" textLength="182.5" lengthAdjust="spacingAndGlyphs">SYSTEM FLOW PIPE</text>
<text x="959.8" y="1171.1" textLength="21.2" lengthAdjust="spacingAndGlyphs">36</text>
<text x="992.3" y="1171.1" textLength="136.1" lengthAdjust="spacingAndGlyphs">MODE SWITCH</text>
<text x="959.8" y="1196.2" textLength="21.2" lengthAdjust="spacingAndGlyphs">37</text>
<text x="992.3" y="1196.2" textLength="258.2" lengthAdjust="spacingAndGlyphs">SYSTEM PRESSURE GUAGE</text>
<text x="959.8" y="1221.3" textLength="21.2" lengthAdjust="spacingAndGlyphs">38</text>
<text x="992.3" y="1221.3" textLength="329.1" lengthAdjust="spacingAndGlyphs">BOILER OVERHEAT RESET BUTTON</text>
<text x="959.8" y="1246.4" textLength="21.2" lengthAdjust="spacingAndGlyphs">39</text>
<text x="992.3" y="1246.4" textLength="308.0" lengthAdjust="spacingAndGlyphs">FLUE OVERHEAT RESET BUTTON</text>
<text x="959.8" y="1271.5" textLength="21.2" lengthAdjust="spacingAndGlyphs">40</text>
<text x="992.3" y="1271.5" textLength="303.9" lengthAdjust="spacingAndGlyphs">TEMPERATURE CONTROL KNOB</text>
</g>
<g class="lab">
<text x="144.9" y="441.8" textLength="8.1" lengthAdjust="spacingAndGlyphs">1</text>
<text x="292.4" y="387.3" textLength="9.7" lengthAdjust="spacingAndGlyphs">2</text>
<text x="379.4" y="338.5" textLength="10.5" lengthAdjust="spacingAndGlyphs">3</text>
<text x="463.9" y="323.0" textLength="9.7" lengthAdjust="spacingAndGlyphs">4</text>
<text x="693.4" y="317.5" textLength="10.4" lengthAdjust="spacingAndGlyphs">5</text>
<text x="747.4" y="330.4" textLength="10.5" lengthAdjust="spacingAndGlyphs">6</text>
<text x="888.2" y="346.7" textLength="9.7" lengthAdjust="spacingAndGlyphs">7</text>
<text x="885.2" y="562.3" textLength="11.0" lengthAdjust="spacingAndGlyphs">8</text>
<text x="886.6" y="660.6" textLength="10.4" lengthAdjust="spacingAndGlyphs">9</text>
<text x="887.7" y="702.0" textLength="18.4" lengthAdjust="spacingAndGlyphs">10</text>
<text x="888.2" y="734.0" textLength="15.7" lengthAdjust="spacingAndGlyphs">11</text>
<text x="887.7" y="774.2" textLength="18.4" lengthAdjust="spacingAndGlyphs">12</text>
<text x="888.9" y="863.6" textLength="18.4" lengthAdjust="spacingAndGlyphs">15</text>
<text x="888.3" y="899.2" textLength="17.7" lengthAdjust="spacingAndGlyphs">16</text>
<text x="888.9" y="932.4" textLength="17.2" lengthAdjust="spacingAndGlyphs">17</text>
<text x="887.4" y="974.0" textLength="18.6" lengthAdjust="spacingAndGlyphs">18</text>
<text x="867.4" y="1042.0" textLength="18.9" lengthAdjust="spacingAndGlyphs">19</text>
<text x="793.9" y="1104.0" textLength="21.7" lengthAdjust="spacingAndGlyphs">20</text>
<text x="639.8" y="1197.0" textLength="18.2" lengthAdjust="spacingAndGlyphs">21</text>
<text x="600.9" y="1282.7" textLength="20.5" lengthAdjust="spacingAndGlyphs">22</text>
<text x="467.2" y="1279.0" textLength="20.8" lengthAdjust="spacingAndGlyphs">23</text>
<text x="313.4" y="1225.0" textLength="20.1" lengthAdjust="spacingAndGlyphs">24</text>
<text x="276.0" y="1225.0" textLength="20.9" lengthAdjust="spacingAndGlyphs">25</text>
<text x="239.1" y="1225.0" textLength="19.7" lengthAdjust="spacingAndGlyphs">26</text>
<text x="201.6" y="927.0" textLength="19.4" lengthAdjust="spacingAndGlyphs">27</text>
<text x="245.8" y="927.0" textLength="20.7" lengthAdjust="spacingAndGlyphs">28</text>
<text x="86.4" y="850.5" textLength="20.2" lengthAdjust="spacingAndGlyphs">29</text>
<text x="233.2" y="823.0" textLength="19.6" lengthAdjust="spacingAndGlyphs">30</text>
<text x="234.4" y="784.0" textLength="17.2" lengthAdjust="spacingAndGlyphs">31</text>
<text x="234.8" y="738.0" textLength="20.2" lengthAdjust="spacingAndGlyphs">32</text>
<text x="370.9" y="801.2" textLength="20.2" lengthAdjust="spacingAndGlyphs">33</text>
<text x="370.9" y="728.9" textLength="20.7" lengthAdjust="spacingAndGlyphs">34</text>
<text x="370.9" y="691.2" textLength="20.7" lengthAdjust="spacingAndGlyphs">35</text>
<text x="322.2" y="689.6" textLength="19.8" lengthAdjust="spacingAndGlyphs">36</text>
<text x="260.3" y="681.5" textLength="20.0" lengthAdjust="spacingAndGlyphs">37</text>
<text x="220.6" y="673.9" textLength="20.2" lengthAdjust="spacingAndGlyphs">38</text>
<text x="188.4" y="659.0" textLength="20.8" lengthAdjust="spacingAndGlyphs">39</text>
<text x="76.1" y="639.5" textLength="20.7" lengthAdjust="spacingAndGlyphs">40</text>
<rect x="784" y="800" width="136" height="30" fill="#fff"/>
<text x="786.4" y="819" textLength="131" lengthAdjust="spacingAndGlyphs">13 &amp; 14 (location)</text>
</g>
</svg>
</body></html>
